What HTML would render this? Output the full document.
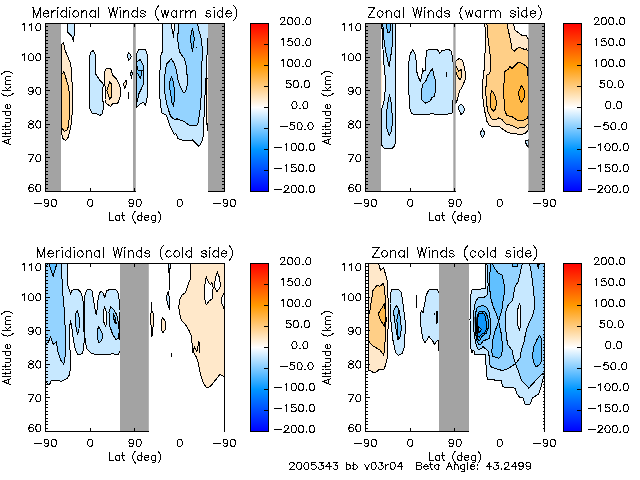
<!DOCTYPE html>
<html><head><meta charset="utf-8"><title>Winds</title>
<style>html,body{margin:0;padding:0;background:#fff;font-family:"Liberation Sans",sans-serif;}svg{display:block}</style>
</head><body>
<svg width="640" height="480" viewBox="0 0 640 480">
<defs><linearGradient id="cb" x1="0" y1="0" x2="0" y2="1"><stop offset="0.000" stop-color="#ff0000"/><stop offset="0.250" stop-color="#ff9900"/><stop offset="0.500" stop-color="#ffffff"/><stop offset="0.750" stop-color="#0096ff"/><stop offset="1.000" stop-color="#0000ff"/></linearGradient></defs>
<rect width="640" height="480" fill="#fff"/>
<path d="M67.50 23.50 L67.50 32.00 L70.00 34.50 L72.00 36.60 L73.40 41.50 L73.70 36.50 L74.60 34.50 L74.60 23.50 Z" fill="#c7e8ff" stroke="#000" stroke-width="1" stroke-linejoin="round" shape-rendering="crispEdges"/>
<path d="M61.00 44.50 L63.50 43.00 L65.00 50.00 L68.10 57.50 L70.60 63.80 L71.50 70.00 L71.90 80.00 L72.50 92.50 L72.30 111.00 L71.30 123.80 L70.00 130.00 L68.10 137.50 L65.60 140.60 L63.10 138.80 L61.50 133.80 L61.00 132.00 Z" fill="#ffe8ca" stroke="#000" stroke-width="1" stroke-linejoin="round" shape-rendering="crispEdges"/>
<path d="M61.00 75.00 L63.80 71.90 L65.60 76.30 L66.30 80.00 L68.80 87.50 L69.40 98.80 L69.40 115.00 L68.50 126.30 L66.70 130.60 L64.40 131.30 L61.90 128.00 L61.00 126.00 Z" fill="#ffcf87" stroke="#000" stroke-width="1" stroke-linejoin="round" shape-rendering="crispEdges"/>
<path d="M93.10 50.40 L90.60 52.50 L89.40 57.50 L89.40 107.50 L91.90 113.10 L96.30 113.80 L100.00 115.40 L102.50 113.80 L103.10 108.80 L102.90 92.50 L103.10 83.80 L100.60 81.30 L97.50 76.90 L95.60 73.80 L95.60 57.50 L95.00 53.80 Z" fill="#c7e8ff" stroke="#000" stroke-width="1" stroke-linejoin="round" shape-rendering="crispEdges"/>
<path d="M106.30 68.10 L110.00 68.10 L111.30 70.00 L112.50 75.00 L116.30 78.80 L118.80 83.80 L120.60 88.80 L120.60 95.00 L118.80 100.60 L117.50 103.80 L112.50 103.80 L110.60 106.30 L106.30 103.80 L105.00 100.00 L105.40 88.00 L104.00 80.00 L104.40 72.50 Z" fill="#ffe8ca" stroke="#000" stroke-width="1" stroke-linejoin="round" shape-rendering="crispEdges"/>
<path d="M109.80 81.90 L106.90 90.60 L110.00 99.40 L111.30 97.00 L111.30 84.00 Z" fill="#ffcf87" stroke="#000" stroke-width="1" stroke-linejoin="round" shape-rendering="crispEdges"/>
<path d="M128.80 52.50 L131.50 56.50 L128.80 60.60 L127.30 55.60 Z" fill="#c7e8ff" stroke="#000" stroke-width="1" stroke-linejoin="round" shape-rendering="crispEdges"/>
<path d="M131.50 70.30 L132.30 73.80 L131.50 78.10 L130.40 73.80 Z" fill="#c7e8ff" stroke="#000" stroke-width="1" stroke-linejoin="round" shape-rendering="crispEdges"/>
<path d="M126.30 80.00 L126.50 83.80 L124.80 88.80 L123.50 83.80 Z" fill="#ffe8ca" stroke="#000" stroke-width="1" stroke-linejoin="round" shape-rendering="crispEdges"/>
<path d="M136.00 56.00 L136.30 55.00 L138.60 49.40 L145.50 49.40 L147.30 55.00 L147.80 70.00 L147.50 94.00 L146.70 100.00 L145.50 105.20 L143.30 102.30 L140.30 103.80 L137.30 106.80 L136.00 107.50 Z" fill="#c7e8ff" stroke="#000" stroke-width="1" stroke-linejoin="round" shape-rendering="crispEdges"/>
<path d="M136.00 62.50 L140.30 59.50 L143.30 65.50 L144.00 74.50 L143.70 83.50 L141.00 89.50 L138.80 94.00 L137.70 100.00 L136.20 103.00 L136.00 103.00 Z" fill="#94d3ff" stroke="#000" stroke-width="1" stroke-linejoin="round" shape-rendering="crispEdges"/>
<path d="M136.40 64.00 L138.20 70.50 L142.30 70.00 L140.60 78.30 L137.60 73.50 L136.40 74.00 Z" fill="#61c0ff" stroke="#000" stroke-width="1" stroke-linejoin="round" shape-rendering="crispEdges"/>
<path d="M128.30 92.00 L128.30 99.00" fill="none" stroke="#000" stroke-width="1" stroke-linejoin="round" stroke-linecap="round" shape-rendering="crispEdges"/>
<path d="M162.50 23.50 L162.50 51.30 L160.60 56.30 L160.00 70.00 L159.40 80.00 L159.40 92.50 L160.60 105.00 L161.90 113.10 L166.30 115.00 L168.50 121.30 L170.60 127.50 L174.40 134.40 L175.60 133.10 L178.10 138.80 L182.50 140.30 L192.50 140.00 L195.60 143.10 L198.80 146.50 L201.90 141.90 L203.10 136.30 L203.80 122.50 L204.50 105.00 L205.50 86.00 L206.50 70.00 L207.00 55.00 L207.60 45.00 L208.00 38.00 L208.00 23.50 Z" fill="#c7e8ff" stroke="#000" stroke-width="1" stroke-linejoin="round" shape-rendering="crispEdges"/>
<path d="M171.00 23.50 L173.50 36.30 L174.80 23.50 Z" fill="#ffffff" stroke="#000" stroke-width="1" stroke-linejoin="round" shape-rendering="crispEdges"/>
<path d="M178.80 23.50 L177.80 36.30 L178.10 45.00 L180.00 52.50 L184.40 58.80 L186.30 66.30 L187.50 80.00 L186.90 87.50 L185.40 92.00 L183.50 92.50 L180.60 87.50 L178.10 80.00 L176.30 70.00 L174.40 63.80 L171.30 58.80 L166.90 63.80 L165.30 70.00 L164.60 80.00 L164.80 92.50 L166.90 105.00 L170.60 116.30 L175.00 120.00 L176.90 118.80 L183.80 121.30 L188.80 125.00 L196.90 125.00 L198.10 122.50 L199.40 115.00 L200.60 105.00 L201.30 92.50 L201.40 80.00 L201.90 63.80 L202.50 51.30 L201.30 38.80 L198.80 30.00 L197.50 23.50 Z" fill="#94d3ff" stroke="#000" stroke-width="1" stroke-linejoin="round" shape-rendering="crispEdges"/>
<path d="M192.50 28.10 L194.40 38.80 L192.50 51.30 L190.30 38.80 Z" fill="#61c0ff" stroke="#000" stroke-width="1" stroke-linejoin="round" shape-rendering="crispEdges"/>
<path d="M171.60 76.90 L169.40 82.50 L169.40 88.00 L170.60 92.50 L171.90 102.50 L173.70 107.00 L174.20 100.00 L174.40 90.00 L173.50 82.50 Z" fill="#61c0ff" stroke="#000" stroke-width="1" stroke-linejoin="round" shape-rendering="crispEdges"/>
<path d="M172.80 30.00 L173.80 37.50" fill="none" stroke="#000" stroke-width="1" stroke-linejoin="round" stroke-linecap="round" shape-rendering="crispEdges"/>
<path d="M196.30 47.30 L196.70 48.00" fill="none" stroke="#000" stroke-width="1" stroke-linejoin="round" stroke-linecap="round" shape-rendering="crispEdges"/>
<path d="M206.60 78.00 L206.40 100.00 L206.60 120.00 L207.60 130.80 L208.20 120.00 L208.20 78.00 Z" fill="#ffe8ca" stroke="#000" stroke-width="1" stroke-linejoin="round" shape-rendering="crispEdges"/>
<rect x="46.00" y="23.50" width="15.00" height="168.00" fill="#a3a3a3"/>
<rect x="133.00" y="23.50" width="2.80" height="168.00" fill="#a3a3a3"/>
<rect x="208.00" y="23.50" width="16.50" height="168.00" fill="#a3a3a3"/>
<rect x="250.5" y="23.5" width="18.0" height="168.0" fill="url(#cb)"/>
<path d="M381.80 23.50 L382.50 40.00 L383.50 58.00 L384.40 70.00 L385.60 80.00 L385.00 92.50 L383.80 102.50 L381.90 108.80 L381.60 145.00 L383.80 148.10 L391.90 148.50 L394.80 145.60 L395.40 141.30 L395.40 23.50 Z" fill="#c7e8ff" stroke="#000" stroke-width="1" stroke-linejoin="round" shape-rendering="crispEdges"/>
<path d="M382.80 23.50 L383.80 38.80 L385.60 51.30 L389.10 66.30 L390.60 57.50 L392.30 45.00 L392.80 23.50 Z" fill="#94d3ff" stroke="#000" stroke-width="1" stroke-linejoin="round" shape-rendering="crispEdges"/>
<path d="M386.50 23.50 L387.30 32.00 L389.90 32.00 L391.00 23.50 Z" fill="#61c0ff" stroke="#000" stroke-width="1" stroke-linejoin="round" shape-rendering="crispEdges"/>
<path d="M389.40 95.00 L387.30 105.00 L386.30 117.50 L386.90 128.80 L389.40 135.60 L391.90 130.00 L392.30 117.50 L391.50 105.00 L390.60 98.80 Z" fill="#94d3ff" stroke="#000" stroke-width="1" stroke-linejoin="round" shape-rendering="crispEdges"/>
<path d="M381.00 60.00 L382.40 62.00 L382.40 102.50 L381.00 104.00 Z" fill="#ffe8ca" stroke="none" stroke-width="1" stroke-linejoin="round" shape-rendering="crispEdges"/>
<path d="M412.50 49.80 L410.30 53.80 L409.00 61.30 L408.80 70.00 L408.40 80.00 L409.00 95.00 L409.80 108.80 L411.90 113.80 L417.50 115.00 L425.00 114.40 L432.50 113.80 L440.00 115.00 L445.00 114.80 L451.90 113.10 L452.80 108.80 L453.00 100.00 L453.00 61.90 L452.50 58.80 L451.50 51.30 L448.80 49.40 L441.90 50.60 L439.80 53.30 L437.50 49.90 L428.80 49.80 L426.90 50.60 L426.00 57.50 L425.60 70.00 L423.80 71.30 L422.50 68.80 L421.90 75.00 L420.30 81.50 L418.10 76.30 L416.30 70.00 L416.00 60.00 L415.00 53.80 Z" fill="#c7e8ff" stroke="#000" stroke-width="1" stroke-linejoin="round" shape-rendering="crispEdges"/>
<path d="M432.50 68.10 L427.50 76.30 L426.30 80.00 L422.50 85.00 L421.30 92.50 L421.90 100.00 L425.60 103.10 L430.60 100.60 L431.90 97.50 L434.40 96.30 L435.60 90.00 L436.00 85.00 L435.60 81.30 L433.80 75.00 Z" fill="#94d3ff" stroke="#000" stroke-width="1" stroke-linejoin="round" shape-rendering="crispEdges"/>
<path d="M446.50 72.00 L446.50 77.00" fill="none" stroke="#000" stroke-width="1" stroke-linejoin="round" stroke-linecap="round" shape-rendering="crispEdges"/>
<path d="M455.00 62.00 L456.30 60.60 L459.40 58.50 L462.30 60.00 L463.80 65.00 L465.30 72.50 L465.00 80.00 L462.50 86.30 L459.40 91.30 L458.10 96.30 L457.20 100.00 L456.00 103.00 L455.00 103.50 Z" fill="#ffe8ca" stroke="#000" stroke-width="1" stroke-linejoin="round" shape-rendering="crispEdges"/>
<path d="M455.60 66.00 L456.30 66.30 L458.80 71.30 L461.30 69.40 L461.30 77.50 L460.00 80.00 L457.30 76.30 L455.60 71.00 Z" fill="#ffcf87" stroke="#000" stroke-width="1" stroke-linejoin="round" shape-rendering="crispEdges"/>
<path d="M461.30 104.00 L464.80 108.80 L463.10 113.10 L461.00 114.40 L458.50 108.80 L459.00 105.60 Z" fill="#c7e8ff" stroke="#000" stroke-width="1" stroke-linejoin="round" shape-rendering="crispEdges"/>
<path d="M482.50 129.00 L485.00 133.10 L482.50 137.80 L480.00 133.10 Z" fill="#c7e8ff" stroke="#000" stroke-width="1" stroke-linejoin="round" shape-rendering="crispEdges"/>
<path d="M525.00 140.60 L528.50 140.00 L528.50 147.50 L526.50 145.00 Z" fill="#c7e8ff" stroke="#000" stroke-width="1" stroke-linejoin="round" shape-rendering="crispEdges"/>
<path d="M484.80 23.50 L485.60 38.80 L486.00 51.30 L484.40 53.80 L484.80 68.80 L483.10 72.50 L483.50 77.50 L482.60 80.00 L482.80 90.00 L483.10 102.50 L485.00 112.50 L486.90 121.30 L489.40 125.60 L493.80 126.90 L498.80 126.30 L503.10 129.40 L507.50 132.50 L515.00 133.80 L520.00 134.40 L525.00 133.80 L528.10 130.00 L528.50 128.00 L528.50 38.80 L528.10 38.80 L526.30 35.60 L522.50 35.60 L518.80 33.10 L515.00 30.00 L513.50 23.50 Z" fill="#ffe8ca" stroke="#000" stroke-width="1" stroke-linejoin="round" shape-rendering="crispEdges"/>
<path d="M486.90 23.50 L488.10 38.80 L489.80 51.30 L490.60 61.30 L490.80 68.80 L489.40 73.80 L486.90 75.00 L486.70 85.00 L485.60 87.50 L486.30 102.50 L488.10 112.50 L491.30 118.80 L495.60 120.00 L498.80 117.80 L501.90 119.40 L505.60 123.80 L512.50 125.60 L517.50 128.10 L524.40 127.50 L528.10 123.80 L528.50 122.00 L528.50 51.30 L528.10 51.30 L526.30 48.80 L524.40 50.00 L522.50 48.10 L518.10 47.80 L514.00 51.30 L511.90 48.80 L511.00 42.50 L508.80 32.50 L506.90 23.50 Z" fill="#ffcf87" stroke="#000" stroke-width="1" stroke-linejoin="round" shape-rendering="crispEdges"/>
<path d="M504.40 80.00 L505.00 71.30 L508.10 69.40 L510.00 66.30 L511.90 68.80 L518.10 62.50 L521.90 63.10 L526.90 66.90 L527.80 72.00 L528.20 80.00 L528.50 104.00 L528.50 115.00 L526.90 118.80 L522.50 120.60 L517.50 120.60 L512.50 116.90 L506.90 115.60 L505.00 111.30 L504.00 98.80 L503.50 88.00 Z" fill="#ffba4b" stroke="#000" stroke-width="1" stroke-linejoin="round" shape-rendering="crispEdges"/>
<path d="M491.60 90.60 L490.10 96.30 L490.10 102.00 L490.60 107.50 L493.30 111.30 L495.60 108.80 L496.50 102.50 L495.60 97.50 L493.10 92.00 Z" fill="#ffba4b" stroke="#000" stroke-width="1" stroke-linejoin="round" shape-rendering="crispEdges"/>
<path d="M521.50 85.30 L518.50 92.50 L519.40 98.80 L521.50 102.50 L524.40 97.50 L524.10 90.00 Z" fill="#ffa619" stroke="#000" stroke-width="1" stroke-linejoin="round" shape-rendering="crispEdges"/>
<path d="M528.00 68.00 L528.00 104.00" fill="none" stroke="#000" stroke-width="1" stroke-linejoin="round" stroke-linecap="round" shape-rendering="crispEdges"/>
<rect x="366.00" y="23.50" width="15.00" height="168.00" fill="#a3a3a3"/>
<rect x="453.30" y="23.50" width="2.30" height="168.00" fill="#a3a3a3"/>
<rect x="528.50" y="23.50" width="16.00" height="168.00" fill="#a3a3a3"/>
<rect x="563.5" y="23.5" width="18.0" height="168.0" fill="url(#cb)"/>
<path d="M45.50 263.50 L67.30 263.50 L67.50 285.00 L69.40 290.00 L70.60 294.40 L71.90 290.60 L74.40 289.40 L78.10 289.40 L80.60 291.90 L82.50 297.50 L83.50 303.80 L83.90 320.00 L84.10 341.00 L83.80 349.00 L81.90 353.80 L78.10 355.00 L75.60 350.00 L73.80 342.50 L71.90 328.50 L70.60 320.60 L69.80 326.00 L69.60 337.50 L70.00 350.00 L70.60 367.50 L69.40 375.00 L67.50 378.10 L61.30 381.30 L56.90 380.00 L51.30 380.60 L49.40 385.00 L46.50 382.50 L45.50 382.00 Z" fill="#c7e8ff" stroke="#000" stroke-width="1" stroke-linejoin="round" shape-rendering="crispEdges"/>
<path d="M84.80 336.00 L84.90 320.00 L85.00 295.00 L86.90 290.00 L90.00 289.40 L92.30 291.30 L93.10 297.50 L94.40 305.00 L95.60 313.30 L96.30 315.00 L97.30 307.50 L98.10 298.80 L99.40 293.10 L101.30 291.30 L103.10 293.10 L104.80 297.50 L105.60 293.80 L106.90 290.60 L110.00 289.40 L115.00 289.40 L117.50 291.30 L118.80 296.30 L119.40 303.80 L120.00 310.00 L120.00 351.00 L119.40 352.00 L118.10 354.40 L111.30 353.80 L108.80 354.80 L97.50 355.00 L91.30 353.10 L86.90 349.00 L85.60 342.50 Z" fill="#c7e8ff" stroke="#000" stroke-width="1" stroke-linejoin="round" shape-rendering="crispEdges"/>
<path d="M45.50 263.50 L61.90 263.50 L61.90 276.30 L62.50 291.30 L63.80 303.80 L64.40 312.50 L65.00 325.00 L65.60 342.50 L65.00 357.50 L63.80 364.40 L60.60 360.00 L58.10 352.50 L56.30 341.90 L53.10 344.40 L50.60 336.90 L48.10 342.50 L45.50 343.50 Z" fill="#94d3ff" stroke="#000" stroke-width="1" stroke-linejoin="round" shape-rendering="crispEdges"/>
<path d="M48.80 263.50 L56.90 263.50 L53.10 276.30 Z" fill="#61c0ff" stroke="#000" stroke-width="1" stroke-linejoin="round" shape-rendering="crispEdges"/>
<path d="M45.50 263.50 L48.30 263.50 L45.50 267.00 Z" fill="#61c0ff" stroke="#000" stroke-width="1" stroke-linejoin="round" shape-rendering="crispEdges"/>
<path d="M77.30 310.00 L79.40 318.80 L79.00 328.80 L77.50 335.00 L75.60 325.00 L75.40 315.00 Z" fill="#94d3ff" stroke="#000" stroke-width="1" stroke-linejoin="round" shape-rendering="crispEdges"/>
<path d="M104.50 307.00 L106.50 312.00 L106.90 322.00 L105.60 326.30 L103.80 322.00 L103.40 312.00 Z" fill="#ffffff" stroke="#000" stroke-width="1" stroke-linejoin="round" shape-rendering="crispEdges"/>
<path d="M98.80 326.30 L102.50 333.80 L101.90 340.00 L98.80 343.10 L97.50 337.50 L97.50 330.00 Z" fill="#94d3ff" stroke="#000" stroke-width="1" stroke-linejoin="round" shape-rendering="crispEdges"/>
<path d="M110.60 306.90 L109.00 312.50 L109.40 325.00 L112.50 333.80 L115.60 339.40 L118.10 338.80 L119.20 331.30 L118.40 322.50 L116.90 315.00 L113.80 310.00 Z" fill="#94d3ff" stroke="#000" stroke-width="1" stroke-linejoin="round" shape-rendering="crispEdges"/>
<path d="M113.50 314.00 L115.60 318.00 L116.20 324.00 L114.20 321.50 Z" fill="#61c0ff" stroke="#000" stroke-width="1" stroke-linejoin="round" shape-rendering="crispEdges"/>
<path d="M119.30 312.00 L119.30 340.00" fill="none" stroke="#000" stroke-width="1" stroke-linejoin="round" stroke-linecap="round" shape-rendering="crispEdges"/>
<path d="M190.60 263.50 L190.30 278.80 L187.50 286.30 L185.60 292.50 L181.90 295.00 L179.40 300.00 L178.80 307.50 L179.60 313.00 L181.30 320.00 L185.00 323.80 L188.80 330.00 L191.00 335.00 L191.90 342.50 L193.10 351.30 L196.30 357.00 L198.10 362.50 L200.60 375.00 L203.80 383.80 L206.30 387.30 L210.00 386.90 L215.00 380.60 L220.00 374.40 L223.80 376.30 L224.50 376.50 L224.50 263.50 Z" fill="#ffe8ca" stroke="#000" stroke-width="1" stroke-linejoin="round" shape-rendering="crispEdges"/>
<path d="M206.30 276.90 L208.80 283.10 L210.60 284.50 L211.90 282.50 L213.10 287.50 L212.50 298.80 L209.40 300.60 L206.30 305.00 L204.80 298.80 L204.80 285.00 Z" fill="#ffffff" stroke="#000" stroke-width="1" stroke-linejoin="round" shape-rendering="crispEdges"/>
<path d="M217.30 271.90 L219.40 277.50 L220.60 286.30 L216.90 291.90 L214.40 286.90 L215.30 278.80 Z" fill="#ffffff" stroke="#000" stroke-width="1" stroke-linejoin="round" shape-rendering="crispEdges"/>
<path d="M224.50 292.50 L223.10 294.40 L221.50 298.80 L221.90 303.80 L223.80 308.10 L224.50 308.80 Z" fill="#ffffff" stroke="#000" stroke-width="1" stroke-linejoin="round" shape-rendering="crispEdges"/>
<path d="M192.50 353.00 L194.50 347.00 L196.90 351.50 L199.00 341.50 L199.40 352.50" fill="none" stroke="#000" stroke-width="1" stroke-linejoin="round" stroke-linecap="round" shape-rendering="crispEdges"/>
<path d="M168.30 263.50 L168.80 270.00 L169.30 276.50 L169.90 270.00 L170.40 263.50 Z" fill="#c7e8ff" stroke="#000" stroke-width="1" stroke-linejoin="round" shape-rendering="crispEdges"/>
<path d="M169.20 276.00 L169.00 292.00" fill="none" stroke="#000" stroke-width="1" stroke-linejoin="round" stroke-linecap="round" shape-rendering="crispEdges"/>
<path d="M168.10 291.90 L166.30 297.50 L167.50 303.80 L169.40 309.40 L169.30 297.50 Z" fill="#c7e8ff" stroke="#000" stroke-width="1" stroke-linejoin="round" shape-rendering="crispEdges"/>
<path d="M151.90 302.50 L151.60 312.00" fill="none" stroke="#000" stroke-width="1" stroke-linejoin="round" stroke-linecap="round" shape-rendering="crispEdges"/>
<path d="M151.70 311.00 L150.40 315.00 L150.80 322.00 L152.00 336.50 L153.30 325.00 L153.60 315.00 L152.60 311.50 Z" fill="#ffe8ca" stroke="#000" stroke-width="1" stroke-linejoin="round" shape-rendering="crispEdges"/>
<path d="M162.50 317.30 L165.40 321.30 L165.60 328.80 L163.10 332.50 L161.30 330.00 L161.30 321.30 Z" fill="#ffe8ca" stroke="#000" stroke-width="1" stroke-linejoin="round" shape-rendering="crispEdges"/>
<path d="M171.30 353.00 L171.30 357.00" fill="none" stroke="#000" stroke-width="1" stroke-linejoin="round" stroke-linecap="round" shape-rendering="crispEdges"/>
<rect x="120.00" y="263.50" width="28.80" height="168.00" fill="#a3a3a3"/>
<rect x="250.5" y="263.5" width="18.0" height="168.0" fill="url(#cb)"/>
<path d="M368.40 263.50 L378.50 263.50 L380.60 270.50 L383.50 267.50 L385.00 272.50 L386.90 278.80 L387.90 291.30 L388.10 303.80 L388.10 326.30 L387.50 347.50 L387.30 357.50 L385.60 365.00 L383.80 369.40 L378.80 369.40 L376.90 371.90 L373.10 372.30 L370.00 370.60 L368.40 370.20 Z" fill="#ffe8ca" stroke="#000" stroke-width="1" stroke-linejoin="round" shape-rendering="crispEdges"/>
<path d="M368.40 320.00 L368.50 313.00 L369.40 313.80 L371.30 301.30 L373.10 290.00 L376.90 285.60 L380.00 286.30 L383.50 283.10 L384.80 291.30 L385.60 303.80 L386.10 320.00 L385.60 335.00 L384.60 347.50 L383.80 355.30 L380.00 350.00 L372.50 345.60 L368.40 341.00 Z" fill="#ffcf87" stroke="#000" stroke-width="1" stroke-linejoin="round" shape-rendering="crispEdges"/>
<path d="M384.40 303.80 L381.30 308.80 L378.30 313.80 L380.60 320.50 L384.60 326.30 L385.20 320.00 L385.20 310.00 Z" fill="#ffba4b" stroke="#000" stroke-width="1" stroke-linejoin="round" shape-rendering="crispEdges"/>
<path d="M391.90 289.80 L398.80 289.80 L401.30 292.50 L402.50 300.00 L403.80 310.00 L405.00 320.00 L405.30 322.50 L405.00 335.00 L404.40 346.30 L402.50 353.10 L398.50 355.30 L395.60 352.50 L393.10 341.30 L391.30 326.30 L390.60 315.00 L390.00 303.80 L390.60 292.50 Z" fill="#c7e8ff" stroke="#000" stroke-width="1" stroke-linejoin="round" shape-rendering="crispEdges"/>
<path d="M396.30 305.60 L394.00 310.00 L393.80 314.00 L395.00 322.50 L396.90 335.00 L398.10 340.00 L400.00 337.50 L401.30 328.80 L400.60 318.80 L399.00 310.00 L398.10 308.00 Z" fill="#94d3ff" stroke="#000" stroke-width="1" stroke-linejoin="round" shape-rendering="crispEdges"/>
<path d="M398.80 312.00 L397.30 316.00 L396.90 320.00 L397.40 328.80 L398.20 338.50 L398.10 340.00 L400.00 337.50 L401.30 328.80 L400.60 318.80 L399.00 310.00 Z" fill="#61c0ff" stroke="#000" stroke-width="1" stroke-linejoin="round" shape-rendering="crispEdges"/>
<path d="M416.00 294.50 L416.00 308.00" fill="none" stroke="#000" stroke-width="1" stroke-linejoin="round" stroke-linecap="round" shape-rendering="crispEdges"/>
<path d="M428.80 290.00 L437.50 289.80 L439.00 292.50 L439.50 294.00 L439.50 351.50 L439.00 351.30 L438.80 340.00 L436.30 341.30 L434.40 344.40 L432.50 340.60 L430.00 338.10 L428.80 336.30 L426.90 340.00 L424.80 343.10 L422.50 337.50 L421.30 328.80 L420.00 320.00 L421.30 310.00 L423.10 312.50 L424.40 305.00 L426.30 295.00 Z" fill="#c7e8ff" stroke="#000" stroke-width="1" stroke-linejoin="round" shape-rendering="crispEdges"/>
<path d="M437 311 L437.2 323.5" fill="none" stroke="#000" stroke-width="2" shape-rendering="crispEdges"/>
<path d="M434.40 313.50 L434.60 314.00" fill="none" stroke="#000" stroke-width="1" stroke-linejoin="round" stroke-linecap="round" shape-rendering="crispEdges"/>
<path d="M485.00 263.50 L485.00 288.80 L472.50 289.40 L471.30 291.30 L470.60 297.50 L470.00 320.00 L470.60 347.50 L471.30 349.40 L471.90 352.80 L473.10 350.00 L474.20 351.50 L475.00 354.40 L485.60 355.00 L486.30 372.50 L487.50 379.40 L501.30 380.60 L502.50 386.90 L515.00 388.10 L516.90 393.80 L520.00 397.50 L523.10 398.10 L525.00 404.40 L530.00 404.40 L532.50 398.10 L538.80 393.80 L541.30 386.30 L543.10 378.80 L544.50 375.00 L544.50 263.50 Z" fill="#c7e8ff" stroke="#000" stroke-width="1" stroke-linejoin="round" shape-rendering="crispEdges"/>
<path d="M486.90 263.50 L487.50 272.50 L488.10 285.00 L487.30 295.00 L483.80 297.50 L477.90 297.90 L475.40 302.30 L473.80 311.00 L473.50 327.30 L474.80 338.50 L476.60 346.00 L478.50 349.80 L481.60 348.50 L482.90 346.60 L486.00 349.10 L488.60 351.50 L490.00 365.00 L491.90 367.50 L502.50 370.60 L507.50 368.80 L515.60 363.80 L513.10 356.30 L513.10 355.00 L511.90 350.00 L508.10 345.00 L506.30 337.50 L505.50 323.40 L505.90 311.30 L507.80 305.60 L509.20 304.00 L512.50 300.30 L513.90 292.80 L514.40 287.70 L518.10 281.60 L520.00 274.00 L522.30 263.50 Z" fill="#94d3ff" stroke="#000" stroke-width="1" stroke-linejoin="round" shape-rendering="crispEdges"/>
<path d="M529.60 263.50 L531.30 272.20 L532.70 283.40 L534.00 295.60 L534.50 302.00 L534.10 309.40 L532.20 316.90 L529.40 322.50 L526.60 329.00 L525.20 335.60 L523.80 343.00 L521.30 350.00 L520.00 358.00 L515.60 363.80 L518.80 372.50 L521.30 380.00 L528.80 388.10 L535.00 381.30 L541.30 375.00 L544.50 372.50 L544.50 263.50 Z" fill="#94d3ff" stroke="#000" stroke-width="1" stroke-linejoin="round" shape-rendering="crispEdges"/>
<path d="M536.90 263.50 L538.30 268.40 L539.20 263.50" fill="none" stroke="#000" stroke-width="1" stroke-linejoin="round" stroke-linecap="round" shape-rendering="crispEdges"/>
<path d="M519.50 303.30 L517.50 310.30 L517.50 324.40 L519.50 330.50 L520.80 323.40 L520.90 307.50 Z" fill="#ffffff" stroke="#000" stroke-width="1" stroke-linejoin="round" shape-rendering="crispEdges"/>
<path d="M491.00 263.50 L490.00 272.50 L489.40 285.00 L490.60 297.50 L493.10 306.30 L496.30 313.80 L498.70 321.00 L499.60 317.50 L501.90 310.00 L503.10 300.00 L504.80 290.00 L503.80 282.50 L501.90 275.00 L498.10 273.00 L494.40 268.00 L492.50 263.50 Z" fill="#61c0ff" stroke="#000" stroke-width="1" stroke-linejoin="round" shape-rendering="crispEdges"/>
<path d="M498.70 321.00 L495.00 331.30 L492.30 341.30 L491.90 352.50 L492.50 356.30 L495.00 356.90 L498.80 358.50 L501.90 355.30 L502.30 343.80 L501.30 333.80 L499.80 326.90 Z" fill="#61c0ff" stroke="#000" stroke-width="1" stroke-linejoin="round" shape-rendering="crispEdges"/>
<path d="M478.50 306.60 L482.90 305.40 L486.60 307.30 L489.10 312.30 L490.40 321.00 L490.80 332.30 L489.10 338.50 L486.00 339.80 L482.90 341.00 L481.00 344.10 L478.50 344.10 L476.60 339.80 L475.40 331.00 L475.40 314.80 L476.60 308.50 Z" fill="#61c0ff" stroke="#000" stroke-width="1" stroke-linejoin="round" shape-rendering="crispEdges"/>
<path d="M539.60 335.40 L536.90 339.70 L533.90 346.50 L532.50 355.00 L533.50 362.50 L536.30 366.90 L540.60 363.80 L541.90 357.50 L542.00 345.00 L541.20 338.00 Z" fill="#61c0ff" stroke="#000" stroke-width="1" stroke-linejoin="round" shape-rendering="crispEdges"/>
<path d="M512.00 263.50 L512.20 266.30 L517.50 266.30 L517.70 263.50 Z" fill="#61c0ff" stroke="#000" stroke-width="1" stroke-linejoin="round" shape-rendering="crispEdges"/>
<path d="M478.50 312.30 L482.30 311.00 L485.40 312.30 L487.90 317.30 L488.50 327.30 L486.00 333.50 L482.30 336.00 L479.80 340.40 L477.90 339.80 L477.00 331.00 L477.00 317.30 Z" fill="#2eacff" stroke="#000" stroke-width="1" stroke-linejoin="round" shape-rendering="crispEdges"/>
<path d="M479.10 314.10 L482.30 312.90 L484.80 314.80 L486.00 321.00 L486.60 328.50 L484.80 332.90 L481.60 334.10 L479.10 337.30 L477.90 336.00 L477.30 327.30 L477.50 318.50 Z" fill="#0f96fa" stroke="#000" stroke-width="1" stroke-linejoin="round" shape-rendering="crispEdges"/>
<path d="M478.40 326.00 L481.40 329.80 L478.80 332.80 Z" fill="#2eacff" stroke="#000" stroke-width="1" stroke-linejoin="round" shape-rendering="crispEdges"/>
<path d="M475.6 317.5 L476.4 333.5" fill="none" stroke="#000" stroke-width="2.2" stroke-linecap="round"/>
<rect x="439.00" y="263.50" width="30.00" height="168.00" fill="#a3a3a3"/>
<rect x="563.5" y="263.5" width="18.0" height="168.0" fill="url(#cb)"/>
<path d="M45.5 191.5 V23.5 H224.5 V191.5 M45.0 191.5 H135.5 M208.0 191.5 H225.0 M90.5 191.5 v-3.5 M90.5 23.5 v3.5 M134.5 191.5 v-3.5 M134.5 23.5 v3.5 M45.5 188.5 h2.5 M224.5 188.5 h-2.5 M45.5 184.5 h2.5 M224.5 184.5 h-2.5 M45.5 181.5 h2.5 M224.5 181.5 h-2.5 M45.5 178.5 h2.5 M224.5 178.5 h-2.5 M45.5 174.5 h2.5 M224.5 174.5 h-2.5 M45.5 171.5 h2.5 M224.5 171.5 h-2.5 M45.5 167.5 h2.5 M224.5 167.5 h-2.5 M45.5 164.5 h2.5 M224.5 164.5 h-2.5 M45.5 161.5 h2.5 M224.5 161.5 h-2.5 M45.5 157.5 h4.5 M224.5 157.5 h-4.5 M45.5 154.5 h2.5 M224.5 154.5 h-2.5 M45.5 151.5 h2.5 M224.5 151.5 h-2.5 M45.5 147.5 h2.5 M224.5 147.5 h-2.5 M45.5 144.5 h2.5 M224.5 144.5 h-2.5 M45.5 141.5 h2.5 M224.5 141.5 h-2.5 M45.5 137.5 h2.5 M224.5 137.5 h-2.5 M45.5 134.5 h2.5 M224.5 134.5 h-2.5 M45.5 131.5 h2.5 M224.5 131.5 h-2.5 M45.5 127.5 h2.5 M224.5 127.5 h-2.5 M45.5 124.5 h4.5 M224.5 124.5 h-4.5 M45.5 120.5 h2.5 M224.5 120.5 h-2.5 M45.5 117.5 h2.5 M224.5 117.5 h-2.5 M45.5 114.5 h2.5 M224.5 114.5 h-2.5 M45.5 110.5 h2.5 M224.5 110.5 h-2.5 M45.5 107.5 h2.5 M224.5 107.5 h-2.5 M45.5 104.5 h2.5 M224.5 104.5 h-2.5 M45.5 100.5 h2.5 M224.5 100.5 h-2.5 M45.5 97.5 h2.5 M224.5 97.5 h-2.5 M45.5 94.5 h2.5 M224.5 94.5 h-2.5 M45.5 90.5 h4.5 M224.5 90.5 h-4.5 M45.5 87.5 h2.5 M224.5 87.5 h-2.5 M45.5 83.5 h2.5 M224.5 83.5 h-2.5 M45.5 80.5 h2.5 M224.5 80.5 h-2.5 M45.5 77.5 h2.5 M224.5 77.5 h-2.5 M45.5 73.5 h2.5 M224.5 73.5 h-2.5 M45.5 70.5 h2.5 M224.5 70.5 h-2.5 M45.5 67.5 h2.5 M224.5 67.5 h-2.5 M45.5 63.5 h2.5 M224.5 63.5 h-2.5 M45.5 60.5 h2.5 M224.5 60.5 h-2.5 M45.5 57.5 h4.5 M224.5 57.5 h-4.5 M45.5 53.5 h2.5 M224.5 53.5 h-2.5 M45.5 50.5 h2.5 M224.5 50.5 h-2.5 M45.5 47.5 h2.5 M224.5 47.5 h-2.5 M45.5 43.5 h2.5 M224.5 43.5 h-2.5 M45.5 40.5 h2.5 M224.5 40.5 h-2.5 M45.5 36.5 h2.5 M224.5 36.5 h-2.5 M45.5 33.5 h2.5 M224.5 33.5 h-2.5 M45.5 30.5 h2.5 M224.5 30.5 h-2.5 M45.5 26.5 h2.5 M224.5 26.5 h-2.5 M250.5 23.5 H268.5 V191.5 H250.5 Z M268.5 44.5 h-5 M268.5 65.5 h-5 M268.5 86.5 h-5 M268.5 107.5 h-5 M268.5 128.5 h-5 M268.5 149.5 h-5 M268.5 170.5 h-5 M365.5 191.5 V23.5 H544.5 V191.5 M365.0 191.5 H455.5 M528.0 191.5 H545.0 M410.5 191.5 v-3.5 M410.5 23.5 v3.5 M454.5 191.5 v-3.5 M454.5 23.5 v3.5 M365.5 188.5 h2.5 M544.5 188.5 h-2.5 M365.5 184.5 h2.5 M544.5 184.5 h-2.5 M365.5 181.5 h2.5 M544.5 181.5 h-2.5 M365.5 178.5 h2.5 M544.5 178.5 h-2.5 M365.5 174.5 h2.5 M544.5 174.5 h-2.5 M365.5 171.5 h2.5 M544.5 171.5 h-2.5 M365.5 167.5 h2.5 M544.5 167.5 h-2.5 M365.5 164.5 h2.5 M544.5 164.5 h-2.5 M365.5 161.5 h2.5 M544.5 161.5 h-2.5 M365.5 157.5 h4.5 M544.5 157.5 h-4.5 M365.5 154.5 h2.5 M544.5 154.5 h-2.5 M365.5 151.5 h2.5 M544.5 151.5 h-2.5 M365.5 147.5 h2.5 M544.5 147.5 h-2.5 M365.5 144.5 h2.5 M544.5 144.5 h-2.5 M365.5 141.5 h2.5 M544.5 141.5 h-2.5 M365.5 137.5 h2.5 M544.5 137.5 h-2.5 M365.5 134.5 h2.5 M544.5 134.5 h-2.5 M365.5 131.5 h2.5 M544.5 131.5 h-2.5 M365.5 127.5 h2.5 M544.5 127.5 h-2.5 M365.5 124.5 h4.5 M544.5 124.5 h-4.5 M365.5 120.5 h2.5 M544.5 120.5 h-2.5 M365.5 117.5 h2.5 M544.5 117.5 h-2.5 M365.5 114.5 h2.5 M544.5 114.5 h-2.5 M365.5 110.5 h2.5 M544.5 110.5 h-2.5 M365.5 107.5 h2.5 M544.5 107.5 h-2.5 M365.5 104.5 h2.5 M544.5 104.5 h-2.5 M365.5 100.5 h2.5 M544.5 100.5 h-2.5 M365.5 97.5 h2.5 M544.5 97.5 h-2.5 M365.5 94.5 h2.5 M544.5 94.5 h-2.5 M365.5 90.5 h4.5 M544.5 90.5 h-4.5 M365.5 87.5 h2.5 M544.5 87.5 h-2.5 M365.5 83.5 h2.5 M544.5 83.5 h-2.5 M365.5 80.5 h2.5 M544.5 80.5 h-2.5 M365.5 77.5 h2.5 M544.5 77.5 h-2.5 M365.5 73.5 h2.5 M544.5 73.5 h-2.5 M365.5 70.5 h2.5 M544.5 70.5 h-2.5 M365.5 67.5 h2.5 M544.5 67.5 h-2.5 M365.5 63.5 h2.5 M544.5 63.5 h-2.5 M365.5 60.5 h2.5 M544.5 60.5 h-2.5 M365.5 57.5 h4.5 M544.5 57.5 h-4.5 M365.5 53.5 h2.5 M544.5 53.5 h-2.5 M365.5 50.5 h2.5 M544.5 50.5 h-2.5 M365.5 47.5 h2.5 M544.5 47.5 h-2.5 M365.5 43.5 h2.5 M544.5 43.5 h-2.5 M365.5 40.5 h2.5 M544.5 40.5 h-2.5 M365.5 36.5 h2.5 M544.5 36.5 h-2.5 M365.5 33.5 h2.5 M544.5 33.5 h-2.5 M365.5 30.5 h2.5 M544.5 30.5 h-2.5 M365.5 26.5 h2.5 M544.5 26.5 h-2.5 M563.5 23.5 H581.5 V191.5 H563.5 Z M581.5 44.5 h-5 M581.5 65.5 h-5 M581.5 86.5 h-5 M581.5 107.5 h-5 M581.5 128.5 h-5 M581.5 149.5 h-5 M581.5 170.5 h-5 M45.5 431.5 V263.5 H224.5 V431.5 M45.0 431.5 H148.5 M224.5 431.5 v0.5 M90.5 431.5 v-3.5 M90.5 263.5 v3.5 M134.5 431.5 v-3.5 M134.5 263.5 v3.5 M45.5 428.5 h2.5 M45.5 424.5 h2.5 M45.5 421.5 h2.5 M45.5 418.5 h2.5 M45.5 414.5 h2.5 M45.5 411.5 h2.5 M45.5 407.5 h2.5 M45.5 404.5 h2.5 M45.5 401.5 h2.5 M45.5 397.5 h4.5 M45.5 394.5 h2.5 M45.5 391.5 h2.5 M45.5 387.5 h2.5 M45.5 384.5 h2.5 M45.5 381.5 h2.5 M45.5 377.5 h2.5 M45.5 374.5 h2.5 M45.5 371.5 h2.5 M45.5 367.5 h2.5 M45.5 364.5 h4.5 M45.5 360.5 h2.5 M45.5 357.5 h2.5 M45.5 354.5 h2.5 M45.5 350.5 h2.5 M45.5 347.5 h2.5 M45.5 344.5 h2.5 M45.5 340.5 h2.5 M45.5 337.5 h2.5 M45.5 334.5 h2.5 M45.5 330.5 h4.5 M45.5 327.5 h2.5 M45.5 323.5 h2.5 M45.5 320.5 h2.5 M45.5 317.5 h2.5 M45.5 313.5 h2.5 M45.5 310.5 h2.5 M45.5 307.5 h2.5 M45.5 303.5 h2.5 M45.5 300.5 h2.5 M45.5 297.5 h4.5 M45.5 293.5 h2.5 M45.5 290.5 h2.5 M45.5 287.5 h2.5 M45.5 283.5 h2.5 M45.5 280.5 h2.5 M45.5 276.5 h2.5 M45.5 273.5 h2.5 M45.5 270.5 h2.5 M45.5 266.5 h2.5 M250.5 263.5 H268.5 V431.5 H250.5 Z M268.5 284.5 h-5 M268.5 305.5 h-5 M268.5 326.5 h-5 M268.5 347.5 h-5 M268.5 368.5 h-5 M268.5 389.5 h-5 M268.5 410.5 h-5 M365.5 431.5 V263.5 H544.5 V431.5 M365.0 431.5 H468.5 M544.5 431.5 v0.5 M410.5 431.5 v-3.5 M410.5 263.5 v3.5 M454.5 431.5 v-3.5 M454.5 263.5 v3.5 M365.5 428.5 h2.5 M544.5 428.5 h-1.5 M365.5 424.5 h2.5 M544.5 424.5 h-1.5 M365.5 421.5 h2.5 M544.5 421.5 h-1.5 M365.5 418.5 h2.5 M544.5 418.5 h-1.5 M365.5 414.5 h2.5 M544.5 414.5 h-1.5 M365.5 411.5 h2.5 M544.5 411.5 h-1.5 M365.5 407.5 h2.5 M544.5 407.5 h-1.5 M365.5 404.5 h2.5 M544.5 404.5 h-1.5 M365.5 401.5 h2.5 M544.5 401.5 h-1.5 M365.5 397.5 h4.5 M544.5 397.5 h-1.5 M365.5 394.5 h2.5 M544.5 394.5 h-1.5 M365.5 391.5 h2.5 M544.5 391.5 h-1.5 M365.5 387.5 h2.5 M544.5 387.5 h-1.5 M365.5 384.5 h2.5 M544.5 384.5 h-1.5 M365.5 381.5 h2.5 M544.5 381.5 h-1.5 M365.5 377.5 h2.5 M544.5 377.5 h-1.5 M365.5 374.5 h2.5 M544.5 374.5 h-1.5 M365.5 371.5 h2.5 M544.5 371.5 h-1.5 M365.5 367.5 h2.5 M544.5 367.5 h-1.5 M365.5 364.5 h4.5 M544.5 364.5 h-1.5 M365.5 360.5 h2.5 M544.5 360.5 h-1.5 M365.5 357.5 h2.5 M544.5 357.5 h-1.5 M365.5 354.5 h2.5 M544.5 354.5 h-1.5 M365.5 350.5 h2.5 M544.5 350.5 h-1.5 M365.5 347.5 h2.5 M544.5 347.5 h-1.5 M365.5 344.5 h2.5 M544.5 344.5 h-1.5 M365.5 340.5 h2.5 M544.5 340.5 h-1.5 M365.5 337.5 h2.5 M544.5 337.5 h-1.5 M365.5 334.5 h2.5 M544.5 334.5 h-1.5 M365.5 330.5 h4.5 M544.5 330.5 h-1.5 M365.5 327.5 h2.5 M544.5 327.5 h-1.5 M365.5 323.5 h2.5 M544.5 323.5 h-1.5 M365.5 320.5 h2.5 M544.5 320.5 h-1.5 M365.5 317.5 h2.5 M544.5 317.5 h-1.5 M365.5 313.5 h2.5 M544.5 313.5 h-1.5 M365.5 310.5 h2.5 M544.5 310.5 h-1.5 M365.5 307.5 h2.5 M544.5 307.5 h-1.5 M365.5 303.5 h2.5 M544.5 303.5 h-1.5 M365.5 300.5 h2.5 M544.5 300.5 h-1.5 M365.5 297.5 h4.5 M544.5 297.5 h-1.5 M365.5 293.5 h2.5 M544.5 293.5 h-1.5 M365.5 290.5 h2.5 M544.5 290.5 h-1.5 M365.5 287.5 h2.5 M544.5 287.5 h-1.5 M365.5 283.5 h2.5 M544.5 283.5 h-1.5 M365.5 280.5 h2.5 M544.5 280.5 h-1.5 M365.5 276.5 h2.5 M544.5 276.5 h-1.5 M365.5 273.5 h2.5 M544.5 273.5 h-1.5 M365.5 270.5 h2.5 M544.5 270.5 h-1.5 M365.5 266.5 h2.5 M544.5 266.5 h-1.5 M563.5 263.5 H581.5 V431.5 H563.5 Z M581.5 284.5 h-5 M581.5 305.5 h-5 M581.5 326.5 h-5 M581.5 347.5 h-5 M581.5 368.5 h-5 M581.5 389.5 h-5 M581.5 410.5 h-5" fill="none" stroke="#000" stroke-width="1" shape-rendering="crispEdges"/>
<path d="M34.91 203.34 L41.48 203.34 M48.78 201.64 L48.42 202.66 L47.69 203.34 L46.59 203.68 L46.23 203.68 L45.13 203.34 L44.41 202.66 L44.04 201.64 L44.04 201.30 L44.41 200.28 L45.13 199.60 L46.23 199.26 L46.59 199.26 L47.69 199.60 L48.42 200.28 L48.78 201.64 L48.78 203.34 L48.42 205.04 L47.69 206.06 L46.59 206.40 L45.87 206.40 L44.77 206.06 L44.41 205.38 M53.53 199.26 L52.43 199.60 L51.70 200.62 L51.34 202.32 L51.34 203.34 L51.70 205.04 L52.43 206.06 L53.53 206.40 L54.26 206.40 L55.35 206.06 L56.08 205.04 L56.45 203.34 L56.45 202.32 L56.08 200.62 L55.35 199.60 L54.26 199.26 L53.53 199.26 M89.88 199.26 L88.79 199.60 L88.06 200.62 L87.69 202.32 L87.69 203.34 L88.06 205.04 L88.79 206.06 L89.88 206.40 L90.61 206.40 L91.71 206.06 L92.44 205.04 L92.80 203.34 L92.80 202.32 L92.44 200.62 L91.71 199.60 L90.61 199.26 L89.88 199.26 M133.54 201.64 L133.18 202.66 L132.44 203.34 L131.35 203.68 L130.99 203.68 L129.89 203.34 L129.16 202.66 L128.80 201.64 L128.80 201.30 L129.16 200.28 L129.89 199.60 L130.99 199.26 L131.35 199.26 L132.44 199.60 L133.18 200.28 L133.54 201.64 L133.54 203.34 L133.18 205.04 L132.44 206.06 L131.35 206.40 L130.62 206.40 L129.53 206.06 L129.16 205.38 M138.28 199.26 L137.19 199.60 L136.46 200.62 L136.09 202.32 L136.09 203.34 L136.46 205.04 L137.19 206.06 L138.28 206.40 L139.01 206.40 L140.11 206.06 L140.84 205.04 L141.21 203.34 L141.21 202.32 L140.84 200.62 L140.11 199.60 L139.01 199.26 L138.28 199.26 M179.38 199.26 L178.29 199.60 L177.56 200.62 L177.19 202.32 L177.19 203.34 L177.56 205.04 L178.29 206.06 L179.38 206.40 L180.11 206.40 L181.21 206.06 L181.94 205.04 L182.31 203.34 L182.31 202.32 L181.94 200.62 L181.21 199.60 L180.11 199.26 L179.38 199.26 M213.92 203.34 L220.49 203.34 M227.78 201.64 L227.42 202.66 L226.69 203.34 L225.59 203.68 L225.23 203.68 L224.13 203.34 L223.41 202.66 L223.04 201.64 L223.04 201.30 L223.41 200.28 L224.13 199.60 L225.23 199.26 L225.59 199.26 L226.69 199.60 L227.42 200.28 L227.78 201.64 L227.78 203.34 L227.42 205.04 L226.69 206.06 L225.59 206.40 L224.86 206.40 L223.77 206.06 L223.41 205.38 M232.53 199.26 L231.44 199.60 L230.71 200.62 L230.34 202.32 L230.34 203.34 L230.71 205.04 L231.44 206.06 L232.53 206.40 L233.26 206.40 L234.36 206.06 L235.09 205.04 L235.45 203.34 L235.45 202.32 L235.09 200.62 L234.36 199.60 L233.26 199.26 L232.53 199.26 M33.24 185.48 L32.88 184.80 L31.78 184.46 L31.05 184.46 L29.95 184.80 L29.22 185.82 L28.86 187.52 L28.86 189.22 L29.22 190.58 L29.95 191.26 L31.05 191.60 L31.41 191.60 L32.51 191.26 L33.24 190.58 L33.60 189.56 L33.60 189.22 L33.24 188.20 L32.51 187.52 L31.41 187.18 L31.05 187.18 L29.95 187.52 L29.22 188.20 L28.86 189.22 M37.98 184.46 L36.89 184.80 L36.16 185.82 L35.80 187.52 L35.80 188.54 L36.16 190.24 L36.89 191.26 L37.98 191.60 L38.72 191.60 L39.81 191.26 L40.54 190.24 L40.91 188.54 L40.91 187.52 L40.54 185.82 L39.81 184.80 L38.72 184.46 L37.98 184.46 M33.60 154.56 L29.95 161.70 M28.49 154.56 L33.60 154.56 M37.98 154.56 L36.89 154.90 L36.16 155.92 L35.80 157.62 L35.80 158.64 L36.16 160.34 L36.89 161.36 L37.98 161.70 L38.72 161.70 L39.81 161.36 L40.54 160.34 L40.91 158.64 L40.91 157.62 L40.54 155.92 L39.81 154.90 L38.72 154.56 L37.98 154.56 M30.32 120.96 L29.22 121.30 L28.86 121.98 L28.86 122.66 L29.22 123.34 L29.95 123.68 L31.41 124.02 L32.51 124.36 L33.24 125.04 L33.60 125.72 L33.60 126.74 L33.24 127.42 L32.88 127.76 L31.78 128.10 L30.32 128.10 L29.22 127.76 L28.86 127.42 L28.49 126.74 L28.49 125.72 L28.86 125.04 L29.59 124.36 L30.68 124.02 L32.14 123.68 L32.88 123.34 L33.24 122.66 L33.24 121.98 L32.88 121.30 L31.78 120.96 L30.32 120.96 M37.98 120.96 L36.89 121.30 L36.16 122.32 L35.80 124.02 L35.80 125.04 L36.16 126.74 L36.89 127.76 L37.98 128.10 L38.72 128.10 L39.81 127.76 L40.54 126.74 L40.91 125.04 L40.91 124.02 L40.54 122.32 L39.81 121.30 L38.72 120.96 L37.98 120.96 M33.24 89.74 L32.88 90.76 L32.14 91.44 L31.05 91.78 L30.68 91.78 L29.59 91.44 L28.86 90.76 L28.49 89.74 L28.49 89.40 L28.86 88.38 L29.59 87.70 L30.68 87.36 L31.05 87.36 L32.14 87.70 L32.88 88.38 L33.24 89.74 L33.24 91.44 L32.88 93.14 L32.14 94.16 L31.05 94.50 L30.32 94.50 L29.22 94.16 L28.86 93.48 M37.98 87.36 L36.89 87.70 L36.16 88.72 L35.80 90.42 L35.80 91.44 L36.16 93.14 L36.89 94.16 L37.98 94.50 L38.72 94.50 L39.81 94.16 L40.54 93.14 L40.91 91.44 L40.91 90.42 L40.54 88.72 L39.81 87.70 L38.72 87.36 L37.98 87.36 M22.29 55.12 L23.02 54.78 L24.12 53.76 L24.12 60.90 M30.69 53.76 L29.59 54.10 L28.86 55.12 L28.50 56.82 L28.50 57.84 L28.86 59.54 L29.59 60.56 L30.69 60.90 L31.42 60.90 L32.51 60.56 L33.24 59.54 L33.61 57.84 L33.61 56.82 L33.24 55.12 L32.51 54.10 L31.42 53.76 L30.69 53.76 M37.98 53.76 L36.89 54.10 L36.16 55.12 L35.80 56.82 L35.80 57.84 L36.16 59.54 L36.89 60.56 L37.98 60.90 L38.72 60.90 L39.81 60.56 L40.54 59.54 L40.91 57.84 L40.91 56.82 L40.54 55.12 L39.81 54.10 L38.72 53.76 L37.98 53.76 M22.29 24.92 L23.02 24.58 L24.12 23.56 L24.12 30.70 M29.59 24.92 L30.32 24.58 L31.42 23.56 L31.42 30.70 M37.98 23.56 L36.89 23.90 L36.16 24.92 L35.80 26.62 L35.80 27.64 L36.16 29.34 L36.89 30.36 L37.98 30.70 L38.72 30.70 L39.81 30.36 L40.54 29.34 L40.91 27.64 L40.91 26.62 L40.54 24.92 L39.81 23.90 L38.72 23.56 L37.98 23.56 M109.45 212.74 L109.45 220.40 M109.45 220.40 L113.83 220.40 M119.67 215.29 L119.67 220.40 M119.67 216.39 L118.94 215.66 L118.21 215.29 L117.12 215.29 L116.39 215.66 L115.66 216.39 L115.29 217.48 L115.29 218.21 L115.66 219.31 L116.39 220.03 L117.12 220.40 L118.21 220.40 L118.94 220.03 L119.67 219.31 M122.95 212.74 L122.95 218.94 L123.32 220.03 L124.05 220.40 L124.78 220.40 M121.86 215.29 L124.41 215.29 M135.37 211.28 L134.63 212.00 L133.91 213.10 L133.18 214.56 L132.81 216.39 L132.81 217.84 L133.18 219.67 L133.91 221.13 L134.63 222.22 L135.37 222.96 M141.94 212.74 L141.94 220.40 M141.94 216.39 L141.20 215.66 L140.47 215.29 L139.38 215.29 L138.65 215.66 L137.92 216.39 L137.56 217.48 L137.56 218.21 L137.92 219.31 L138.65 220.03 L139.38 220.40 L140.47 220.40 L141.20 220.03 L141.94 219.31 M144.49 217.48 L148.87 217.48 L148.87 216.75 L148.50 216.02 L148.14 215.66 L147.41 215.29 L146.31 215.29 L145.59 215.66 L144.85 216.39 L144.49 217.48 L144.49 218.21 L144.85 219.31 L145.59 220.03 L146.31 220.40 L147.41 220.40 L148.14 220.03 L148.87 219.31 M155.44 215.29 L155.44 221.13 L155.07 222.22 L154.71 222.59 L153.98 222.96 L152.88 222.96 L152.16 222.59 M155.44 216.39 L154.71 215.66 L153.98 215.29 L152.88 215.29 L152.16 215.66 L151.43 216.39 L151.06 217.48 L151.06 218.21 L151.43 219.31 L152.16 220.03 L152.88 220.40 L153.98 220.40 L154.71 220.03 L155.44 219.31 M158.00 211.28 L158.72 212.00 L159.45 213.10 L160.19 214.56 L160.55 216.39 L160.55 217.84 L160.19 219.67 L159.45 221.13 L158.72 222.22 L158.00 222.96 M2.93 141.63 L10.60 144.55 M2.93 141.63 L10.60 138.71 M8.04 143.45 L8.04 139.80 M2.93 136.88 L10.60 136.88 M2.93 133.60 L9.14 133.60 L10.23 133.23 L10.60 132.50 L10.60 131.77 M5.49 134.69 L5.49 132.14 M2.93 129.95 L3.30 129.58 L2.93 129.22 L2.57 129.58 L2.93 129.95 M5.49 129.58 L10.60 129.58 M2.93 126.30 L9.14 126.30 L10.23 125.93 L10.60 125.20 L10.60 124.47 M5.49 127.39 L5.49 124.84 M5.49 122.28 L9.14 122.28 L10.23 121.92 L10.60 121.19 L10.60 120.09 L10.23 119.36 L9.14 118.27 M5.49 118.27 L10.60 118.27 M2.93 111.33 L10.60 111.33 M6.58 111.33 L5.85 112.06 L5.49 112.79 L5.49 113.89 L5.85 114.62 L6.58 115.35 L7.68 115.71 L8.41 115.71 L9.50 115.35 L10.23 114.62 L10.60 113.89 L10.60 112.79 L10.23 112.06 L9.50 111.33 M7.68 108.78 L7.68 104.40 L6.95 104.40 L6.22 104.76 L5.85 105.13 L5.49 105.86 L5.49 106.95 L5.85 107.68 L6.58 108.41 L7.68 108.78 L8.41 108.78 L9.50 108.41 L10.23 107.68 L10.60 106.95 L10.60 105.86 L10.23 105.13 L9.50 104.40 M1.47 93.45 L2.21 94.18 L3.30 94.91 L4.76 95.64 L6.58 96.00 L8.04 96.00 L9.87 95.64 L11.33 94.91 L12.42 94.18 L13.15 93.45 M2.93 90.89 L10.60 90.89 M5.49 87.24 L9.14 90.89 M7.68 89.43 L10.60 86.88 M5.49 84.69 L10.60 84.69 M6.95 84.69 L5.85 83.59 L5.49 82.86 L5.49 81.77 L5.85 81.04 L6.95 80.67 L10.60 80.67 M6.95 80.67 L5.85 79.58 L5.49 78.85 L5.49 77.75 L5.85 77.02 L6.95 76.66 L10.60 76.66 M1.47 74.10 L2.21 73.37 L3.30 72.64 L4.76 71.91 L6.58 71.55 L8.04 71.55 L9.87 71.91 L11.33 72.64 L12.42 73.37 L13.15 74.10 M33.08 7.61 L33.08 17.00 M33.08 7.61 L36.66 17.00 M40.24 7.61 L36.66 17.00 M40.24 7.61 L40.24 17.00 M43.36 13.42 L48.73 13.42 L48.73 12.53 L48.28 11.64 L47.83 11.19 L46.94 10.74 L45.60 10.74 L44.71 11.19 L43.81 12.08 L43.36 13.42 L43.36 14.32 L43.81 15.66 L44.71 16.55 L45.60 17.00 L46.94 17.00 L47.83 16.55 L48.73 15.66 M51.86 10.74 L51.86 17.00 M51.86 13.42 L52.30 12.08 L53.20 11.19 L54.09 10.74 L55.43 10.74 M57.22 7.61 L57.67 8.06 L58.12 7.61 L57.67 7.17 L57.22 7.61 M57.67 10.74 L57.67 17.00 M66.16 7.61 L66.16 17.00 M66.16 12.08 L65.27 11.19 L64.37 10.74 L63.03 10.74 L62.14 11.19 L61.24 12.08 L60.80 13.42 L60.80 14.32 L61.24 15.66 L62.14 16.55 L63.03 17.00 L64.37 17.00 L65.27 16.55 L66.16 15.66 M69.29 7.61 L69.74 8.06 L70.18 7.61 L69.74 7.17 L69.29 7.61 M69.74 10.74 L69.74 17.00 M75.10 10.74 L74.21 11.19 L73.31 12.08 L72.87 13.42 L72.87 14.32 L73.31 15.66 L74.21 16.55 L75.10 17.00 L76.44 17.00 L77.34 16.55 L78.23 15.66 L78.68 14.32 L78.68 13.42 L78.23 12.08 L77.34 11.19 L76.44 10.74 L75.10 10.74 M81.81 10.74 L81.81 17.00 M81.81 12.53 L83.15 11.19 L84.04 10.74 L85.38 10.74 L86.28 11.19 L86.72 12.53 L86.72 17.00 M95.22 10.74 L95.22 17.00 M95.22 12.08 L94.32 11.19 L93.43 10.74 L92.09 10.74 L91.19 11.19 L90.30 12.08 L89.85 13.42 L89.85 14.32 L90.30 15.66 L91.19 16.55 L92.09 17.00 L93.43 17.00 L94.32 16.55 L95.22 15.66 M98.79 7.61 L98.79 17.00 M108.63 7.61 L110.86 17.00 M113.10 7.61 L110.86 17.00 M113.10 7.61 L115.33 17.00 M117.57 7.61 L115.33 17.00 M119.80 7.61 L120.25 8.06 L120.70 7.61 L120.25 7.17 L119.80 7.61 M120.25 10.74 L120.25 17.00 M123.83 10.74 L123.83 17.00 M123.83 12.53 L125.17 11.19 L126.06 10.74 L127.40 10.74 L128.29 11.19 L128.74 12.53 L128.74 17.00 M137.24 7.61 L137.24 17.00 M137.24 12.08 L136.34 11.19 L135.45 10.74 L134.11 10.74 L133.21 11.19 L132.32 12.08 L131.87 13.42 L131.87 14.32 L132.32 15.66 L133.21 16.55 L134.11 17.00 L135.45 17.00 L136.34 16.55 L137.24 15.66 M145.28 12.08 L144.83 11.19 L143.49 10.74 L142.15 10.74 L140.81 11.19 L140.36 12.08 L140.81 12.98 L141.71 13.42 L143.94 13.87 L144.83 14.32 L145.28 15.21 L145.28 15.66 L144.83 16.55 L143.49 17.00 L142.15 17.00 L140.81 16.55 L140.36 15.66 M158.69 5.82 L157.80 6.72 L156.90 8.06 L156.01 9.85 L155.56 12.08 L155.56 13.87 L156.01 16.11 L156.90 17.89 L157.80 19.23 L158.69 20.13 M161.37 10.74 L163.16 17.00 M164.95 10.74 L163.16 17.00 M164.95 10.74 L166.74 17.00 M168.53 10.74 L166.74 17.00 M176.57 10.74 L176.57 17.00 M176.57 12.08 L175.68 11.19 L174.78 10.74 L173.44 10.74 L172.55 11.19 L171.65 12.08 L171.21 13.42 L171.21 14.32 L171.65 15.66 L172.55 16.55 L173.44 17.00 L174.78 17.00 L175.68 16.55 L176.57 15.66 M180.15 10.74 L180.15 17.00 M180.15 13.42 L180.59 12.08 L181.49 11.19 L182.38 10.74 L183.72 10.74 M185.96 10.74 L185.96 17.00 M185.96 12.53 L187.30 11.19 L188.19 10.74 L189.53 10.74 L190.43 11.19 L190.88 12.53 L190.88 17.00 M190.88 12.53 L192.22 11.19 L193.11 10.74 L194.45 10.74 L195.34 11.19 L195.79 12.53 L195.79 17.00 M210.99 12.08 L210.54 11.19 L209.20 10.74 L207.86 10.74 L206.52 11.19 L206.07 12.08 L206.52 12.98 L207.41 13.42 L209.65 13.87 L210.54 14.32 L210.99 15.21 L210.99 15.66 L210.54 16.55 L209.20 17.00 L207.86 17.00 L206.52 16.55 L206.07 15.66 M213.67 7.61 L214.12 8.06 L214.57 7.61 L214.12 7.17 L213.67 7.61 M214.12 10.74 L214.12 17.00 M222.61 7.61 L222.61 17.00 M222.61 12.08 L221.72 11.19 L220.82 10.74 L219.48 10.74 L218.59 11.19 L217.69 12.08 L217.25 13.42 L217.25 14.32 L217.69 15.66 L218.59 16.55 L219.48 17.00 L220.82 17.00 L221.72 16.55 L222.61 15.66 M225.74 13.42 L231.10 13.42 L231.10 12.53 L230.66 11.64 L230.21 11.19 L229.32 10.74 L227.98 10.74 L227.08 11.19 L226.19 12.08 L225.74 13.42 L225.74 14.32 L226.19 15.66 L227.08 16.55 L227.98 17.00 L229.32 17.00 L230.21 16.55 L231.10 15.66 M233.79 5.82 L234.68 6.72 L235.57 8.06 L236.47 9.85 L236.92 12.08 L236.92 13.87 L236.47 16.11 L235.57 17.89 L234.68 19.23 L233.79 20.13 M280.60 19.26 L280.60 18.92 L280.96 18.24 L281.33 17.90 L282.06 17.56 L283.52 17.56 L284.25 17.90 L284.62 18.24 L284.98 18.92 L284.98 19.60 L284.62 20.28 L283.88 21.30 L280.24 24.70 L285.34 24.70 M289.73 17.56 L288.63 17.90 L287.90 18.92 L287.54 20.62 L287.54 21.64 L287.90 23.34 L288.63 24.36 L289.73 24.70 L290.45 24.70 L291.55 24.36 L292.28 23.34 L292.64 21.64 L292.64 20.62 L292.28 18.92 L291.55 17.90 L290.45 17.56 L289.73 17.56 M297.03 17.56 L295.93 17.90 L295.20 18.92 L294.84 20.62 L294.84 21.64 L295.20 23.34 L295.93 24.36 L297.03 24.70 L297.75 24.70 L298.85 24.36 L299.58 23.34 L299.94 21.64 L299.94 20.62 L299.58 18.92 L298.85 17.90 L297.75 17.56 L297.03 17.56 M302.87 24.02 L302.50 24.36 L302.87 24.70 L303.23 24.36 L302.87 24.02 M307.98 17.56 L306.88 17.90 L306.15 18.92 L305.79 20.62 L305.79 21.64 L306.15 23.34 L306.88 24.36 L307.98 24.70 L308.70 24.70 L309.80 24.36 L310.53 23.34 L310.89 21.64 L310.89 20.62 L310.53 18.92 L309.80 17.90 L308.70 17.56 L307.98 17.56 M281.33 39.92 L282.06 39.58 L283.15 38.56 L283.15 45.70 M291.92 38.56 L288.26 38.56 L287.90 41.62 L288.26 41.28 L289.36 40.94 L290.45 40.94 L291.55 41.28 L292.28 41.96 L292.64 42.98 L292.64 43.66 L292.28 44.68 L291.55 45.36 L290.45 45.70 L289.36 45.70 L288.26 45.36 L287.90 45.02 L287.54 44.34 M297.03 38.56 L295.93 38.90 L295.20 39.92 L294.84 41.62 L294.84 42.64 L295.20 44.34 L295.93 45.36 L297.03 45.70 L297.75 45.70 L298.85 45.36 L299.58 44.34 L299.94 42.64 L299.94 41.62 L299.58 39.92 L298.85 38.90 L297.75 38.56 L297.03 38.56 M302.87 45.02 L302.50 45.36 L302.87 45.70 L303.23 45.36 L302.87 45.02 M307.98 38.56 L306.88 38.90 L306.15 39.92 L305.79 41.62 L305.79 42.64 L306.15 44.34 L306.88 45.36 L307.98 45.70 L308.70 45.70 L309.80 45.36 L310.53 44.34 L310.89 42.64 L310.89 41.62 L310.53 39.92 L309.80 38.90 L308.70 38.56 L307.98 38.56 M281.33 60.92 L282.06 60.58 L283.15 59.56 L283.15 66.70 M289.73 59.56 L288.63 59.90 L287.90 60.92 L287.54 62.62 L287.54 63.64 L287.90 65.34 L288.63 66.36 L289.73 66.70 L290.45 66.70 L291.55 66.36 L292.28 65.34 L292.64 63.64 L292.64 62.62 L292.28 60.92 L291.55 59.90 L290.45 59.56 L289.73 59.56 M297.03 59.56 L295.93 59.90 L295.20 60.92 L294.84 62.62 L294.84 63.64 L295.20 65.34 L295.93 66.36 L297.03 66.70 L297.75 66.70 L298.85 66.36 L299.58 65.34 L299.94 63.64 L299.94 62.62 L299.58 60.92 L298.85 59.90 L297.75 59.56 L297.03 59.56 M302.87 66.02 L302.50 66.36 L302.87 66.70 L303.23 66.36 L302.87 66.02 M307.98 59.56 L306.88 59.90 L306.15 60.92 L305.79 62.62 L305.79 63.64 L306.15 65.34 L306.88 66.36 L307.98 66.70 L308.70 66.70 L309.80 66.36 L310.53 65.34 L310.89 63.64 L310.89 62.62 L310.53 60.92 L309.80 59.90 L308.70 59.56 L307.98 59.56 M290.46 80.56 L286.81 80.56 L286.44 83.62 L286.81 83.28 L287.90 82.94 L289.00 82.94 L290.09 83.28 L290.82 83.96 L291.19 84.98 L291.19 85.66 L290.82 86.68 L290.09 87.36 L289.00 87.70 L287.90 87.70 L286.81 87.36 L286.44 87.02 L286.08 86.34 M295.57 80.56 L294.47 80.90 L293.74 81.92 L293.38 83.62 L293.38 84.64 L293.74 86.34 L294.47 87.36 L295.57 87.70 L296.30 87.70 L297.39 87.36 L298.12 86.34 L298.49 84.64 L298.49 83.62 L298.12 81.92 L297.39 80.90 L296.30 80.56 L295.57 80.56 M301.41 87.02 L301.04 87.36 L301.41 87.70 L301.77 87.36 L301.41 87.02 M306.52 80.56 L305.42 80.90 L304.69 81.92 L304.33 83.62 L304.33 84.64 L304.69 86.34 L305.42 87.36 L306.52 87.70 L307.25 87.70 L308.34 87.36 L309.07 86.34 L309.44 84.64 L309.44 83.62 L309.07 81.92 L308.34 80.90 L307.25 80.56 L306.52 80.56 M294.11 101.56 L293.01 101.90 L292.28 102.92 L291.92 104.62 L291.92 105.64 L292.28 107.34 L293.01 108.36 L294.11 108.70 L294.83 108.70 L295.93 108.36 L296.66 107.34 L297.02 105.64 L297.02 104.62 L296.66 102.92 L295.93 101.90 L294.83 101.56 L294.11 101.56 M299.94 108.02 L299.58 108.36 L299.94 108.70 L300.31 108.36 L299.94 108.02 M305.06 101.56 L303.96 101.90 L303.23 102.92 L302.87 104.62 L302.87 105.64 L303.23 107.34 L303.96 108.36 L305.06 108.70 L305.78 108.70 L306.88 108.36 L307.61 107.34 L307.97 105.64 L307.97 104.62 L307.61 102.92 L306.88 101.90 L305.78 101.56 L305.06 101.56 M280.60 126.64 L287.17 126.64 M294.11 122.56 L290.45 122.56 L290.09 125.62 L290.45 125.28 L291.55 124.94 L292.64 124.94 L293.74 125.28 L294.47 125.96 L294.83 126.98 L294.83 127.66 L294.47 128.68 L293.74 129.36 L292.64 129.70 L291.55 129.70 L290.45 129.36 L290.09 129.02 L289.73 128.34 M299.22 122.56 L298.12 122.90 L297.39 123.92 L297.03 125.62 L297.03 126.64 L297.39 128.34 L298.12 129.36 L299.22 129.70 L299.94 129.70 L301.04 129.36 L301.77 128.34 L302.13 126.64 L302.13 125.62 L301.77 123.92 L301.04 122.90 L299.94 122.56 L299.22 122.56 M305.06 129.02 L304.69 129.36 L305.06 129.70 L305.42 129.36 L305.06 129.02 M310.17 122.56 L309.07 122.90 L308.34 123.92 L307.98 125.62 L307.98 126.64 L308.34 128.34 L309.07 129.36 L310.17 129.70 L310.89 129.70 L311.99 129.36 L312.72 128.34 L313.08 126.64 L313.08 125.62 L312.72 123.92 L311.99 122.90 L310.89 122.56 L310.17 122.56 M274.76 147.64 L281.33 147.64 M284.98 144.92 L285.71 144.58 L286.81 143.56 L286.81 150.70 M293.38 143.56 L292.28 143.90 L291.55 144.92 L291.19 146.62 L291.19 147.64 L291.55 149.34 L292.28 150.36 L293.38 150.70 L294.11 150.70 L295.20 150.36 L295.93 149.34 L296.30 147.64 L296.30 146.62 L295.93 144.92 L295.20 143.90 L294.11 143.56 L293.38 143.56 M300.68 143.56 L299.58 143.90 L298.85 144.92 L298.49 146.62 L298.49 147.64 L298.85 149.34 L299.58 150.36 L300.68 150.70 L301.40 150.70 L302.50 150.36 L303.23 149.34 L303.59 147.64 L303.59 146.62 L303.23 144.92 L302.50 143.90 L301.40 143.56 L300.68 143.56 M306.51 150.02 L306.15 150.36 L306.51 150.70 L306.88 150.36 L306.51 150.02 M311.63 143.56 L310.53 143.90 L309.80 144.92 L309.44 146.62 L309.44 147.64 L309.80 149.34 L310.53 150.36 L311.63 150.70 L312.36 150.70 L313.45 150.36 L314.18 149.34 L314.55 147.64 L314.55 146.62 L314.18 144.92 L313.45 143.90 L312.36 143.56 L311.63 143.56 M274.76 168.64 L281.33 168.64 M284.98 165.92 L285.71 165.58 L286.81 164.56 L286.81 171.70 M295.57 164.56 L291.92 164.56 L291.55 167.62 L291.92 167.28 L293.01 166.94 L294.11 166.94 L295.20 167.28 L295.93 167.96 L296.30 168.98 L296.30 169.66 L295.93 170.68 L295.20 171.36 L294.11 171.70 L293.01 171.70 L291.92 171.36 L291.55 171.02 L291.19 170.34 M300.68 164.56 L299.58 164.90 L298.85 165.92 L298.49 167.62 L298.49 168.64 L298.85 170.34 L299.58 171.36 L300.68 171.70 L301.40 171.70 L302.50 171.36 L303.23 170.34 L303.59 168.64 L303.59 167.62 L303.23 165.92 L302.50 164.90 L301.40 164.56 L300.68 164.56 M306.51 171.02 L306.15 171.36 L306.51 171.70 L306.88 171.36 L306.51 171.02 M311.63 164.56 L310.53 164.90 L309.80 165.92 L309.44 167.62 L309.44 168.64 L309.80 170.34 L310.53 171.36 L311.63 171.70 L312.36 171.70 L313.45 171.36 L314.18 170.34 L314.55 168.64 L314.55 167.62 L314.18 165.92 L313.45 164.90 L312.36 164.56 L311.63 164.56 M274.76 189.64 L281.33 189.64 M284.25 187.26 L284.25 186.92 L284.62 186.24 L284.98 185.90 L285.71 185.56 L287.17 185.56 L287.90 185.90 L288.27 186.24 L288.63 186.92 L288.63 187.60 L288.27 188.28 L287.54 189.30 L283.89 192.70 L289.00 192.70 M293.38 185.56 L292.28 185.90 L291.55 186.92 L291.19 188.62 L291.19 189.64 L291.55 191.34 L292.28 192.36 L293.38 192.70 L294.11 192.70 L295.20 192.36 L295.93 191.34 L296.30 189.64 L296.30 188.62 L295.93 186.92 L295.20 185.90 L294.11 185.56 L293.38 185.56 M300.68 185.56 L299.58 185.90 L298.85 186.92 L298.49 188.62 L298.49 189.64 L298.85 191.34 L299.58 192.36 L300.68 192.70 L301.40 192.70 L302.50 192.36 L303.23 191.34 L303.59 189.64 L303.59 188.62 L303.23 186.92 L302.50 185.90 L301.40 185.56 L300.68 185.56 M306.51 192.02 L306.15 192.36 L306.51 192.70 L306.88 192.36 L306.51 192.02 M311.63 185.56 L310.53 185.90 L309.80 186.92 L309.44 188.62 L309.44 189.64 L309.80 191.34 L310.53 192.36 L311.63 192.70 L312.36 192.70 L313.45 192.36 L314.18 191.34 L314.55 189.64 L314.55 188.62 L314.18 186.92 L313.45 185.90 L312.36 185.56 L311.63 185.56 M354.91 203.34 L361.48 203.34 M368.78 201.64 L368.42 202.66 L367.69 203.34 L366.59 203.68 L366.23 203.68 L365.13 203.34 L364.40 202.66 L364.04 201.64 L364.04 201.30 L364.40 200.28 L365.13 199.60 L366.23 199.26 L366.59 199.26 L367.69 199.60 L368.42 200.28 L368.78 201.64 L368.78 203.34 L368.42 205.04 L367.69 206.06 L366.59 206.40 L365.87 206.40 L364.77 206.06 L364.40 205.38 M373.53 199.26 L372.44 199.60 L371.70 200.62 L371.34 202.32 L371.34 203.34 L371.70 205.04 L372.44 206.06 L373.53 206.40 L374.26 206.40 L375.36 206.06 L376.08 205.04 L376.45 203.34 L376.45 202.32 L376.08 200.62 L375.36 199.60 L374.26 199.26 L373.53 199.26 M409.89 199.26 L408.79 199.60 L408.06 200.62 L407.70 202.32 L407.70 203.34 L408.06 205.04 L408.79 206.06 L409.89 206.40 L410.62 206.40 L411.71 206.06 L412.44 205.04 L412.81 203.34 L412.81 202.32 L412.44 200.62 L411.71 199.60 L410.62 199.26 L409.89 199.26 M453.54 201.64 L453.18 202.66 L452.44 203.34 L451.35 203.68 L450.99 203.68 L449.89 203.34 L449.16 202.66 L448.80 201.64 L448.80 201.30 L449.16 200.28 L449.89 199.60 L450.99 199.26 L451.35 199.26 L452.44 199.60 L453.18 200.28 L453.54 201.64 L453.54 203.34 L453.18 205.04 L452.44 206.06 L451.35 206.40 L450.62 206.40 L449.52 206.06 L449.16 205.38 M458.29 199.26 L457.19 199.60 L456.46 200.62 L456.10 202.32 L456.10 203.34 L456.46 205.04 L457.19 206.06 L458.29 206.40 L459.01 206.40 L460.11 206.06 L460.84 205.04 L461.20 203.34 L461.20 202.32 L460.84 200.62 L460.11 199.60 L459.01 199.26 L458.29 199.26 M499.39 199.26 L498.29 199.60 L497.56 200.62 L497.20 202.32 L497.20 203.34 L497.56 205.04 L498.29 206.06 L499.39 206.40 L500.12 206.40 L501.21 206.06 L501.94 205.04 L502.31 203.34 L502.31 202.32 L501.94 200.62 L501.21 199.60 L500.12 199.26 L499.39 199.26 M533.92 203.34 L540.49 203.34 M547.79 201.64 L547.42 202.66 L546.69 203.34 L545.60 203.68 L545.23 203.68 L544.14 203.34 L543.41 202.66 L543.04 201.64 L543.04 201.30 L543.41 200.28 L544.14 199.60 L545.23 199.26 L545.60 199.26 L546.69 199.60 L547.42 200.28 L547.79 201.64 L547.79 203.34 L547.42 205.04 L546.69 206.06 L545.60 206.40 L544.87 206.40 L543.77 206.06 L543.41 205.38 M552.53 199.26 L551.44 199.60 L550.71 200.62 L550.34 202.32 L550.34 203.34 L550.71 205.04 L551.44 206.06 L552.53 206.40 L553.26 206.40 L554.36 206.06 L555.09 205.04 L555.45 203.34 L555.45 202.32 L555.09 200.62 L554.36 199.60 L553.26 199.26 L552.53 199.26 M353.24 185.48 L352.88 184.80 L351.78 184.46 L351.05 184.46 L349.95 184.80 L349.22 185.82 L348.86 187.52 L348.86 189.22 L349.22 190.58 L349.95 191.26 L351.05 191.60 L351.41 191.60 L352.51 191.26 L353.24 190.58 L353.60 189.56 L353.60 189.22 L353.24 188.20 L352.51 187.52 L351.41 187.18 L351.05 187.18 L349.95 187.52 L349.22 188.20 L348.86 189.22 M357.99 184.46 L356.89 184.80 L356.16 185.82 L355.80 187.52 L355.80 188.54 L356.16 190.24 L356.89 191.26 L357.99 191.60 L358.71 191.60 L359.81 191.26 L360.54 190.24 L360.90 188.54 L360.90 187.52 L360.54 185.82 L359.81 184.80 L358.71 184.46 L357.99 184.46 M353.60 154.56 L349.95 161.70 M348.50 154.56 L353.60 154.56 M357.99 154.56 L356.89 154.90 L356.16 155.92 L355.80 157.62 L355.80 158.64 L356.16 160.34 L356.89 161.36 L357.99 161.70 L358.71 161.70 L359.81 161.36 L360.54 160.34 L360.90 158.64 L360.90 157.62 L360.54 155.92 L359.81 154.90 L358.71 154.56 L357.99 154.56 M350.32 120.96 L349.22 121.30 L348.86 121.98 L348.86 122.66 L349.22 123.34 L349.95 123.68 L351.41 124.02 L352.51 124.36 L353.24 125.04 L353.60 125.72 L353.60 126.74 L353.24 127.42 L352.88 127.76 L351.78 128.10 L350.32 128.10 L349.22 127.76 L348.86 127.42 L348.50 126.74 L348.50 125.72 L348.86 125.04 L349.59 124.36 L350.69 124.02 L352.14 123.68 L352.88 123.34 L353.24 122.66 L353.24 121.98 L352.88 121.30 L351.78 120.96 L350.32 120.96 M357.99 120.96 L356.89 121.30 L356.16 122.32 L355.80 124.02 L355.80 125.04 L356.16 126.74 L356.89 127.76 L357.99 128.10 L358.71 128.10 L359.81 127.76 L360.54 126.74 L360.90 125.04 L360.90 124.02 L360.54 122.32 L359.81 121.30 L358.71 120.96 L357.99 120.96 M353.24 89.74 L352.88 90.76 L352.14 91.44 L351.05 91.78 L350.69 91.78 L349.59 91.44 L348.86 90.76 L348.50 89.74 L348.50 89.40 L348.86 88.38 L349.59 87.70 L350.69 87.36 L351.05 87.36 L352.14 87.70 L352.88 88.38 L353.24 89.74 L353.24 91.44 L352.88 93.14 L352.14 94.16 L351.05 94.50 L350.32 94.50 L349.22 94.16 L348.86 93.48 M357.99 87.36 L356.89 87.70 L356.16 88.72 L355.80 90.42 L355.80 91.44 L356.16 93.14 L356.89 94.16 L357.99 94.50 L358.71 94.50 L359.81 94.16 L360.54 93.14 L360.90 91.44 L360.90 90.42 L360.54 88.72 L359.81 87.70 L358.71 87.36 L357.99 87.36 M342.29 55.12 L343.02 54.78 L344.12 53.76 L344.12 60.90 M350.69 53.76 L349.59 54.10 L348.86 55.12 L348.50 56.82 L348.50 57.84 L348.86 59.54 L349.59 60.56 L350.69 60.90 L351.41 60.90 L352.51 60.56 L353.24 59.54 L353.60 57.84 L353.60 56.82 L353.24 55.12 L352.51 54.10 L351.41 53.76 L350.69 53.76 M357.99 53.76 L356.89 54.10 L356.16 55.12 L355.80 56.82 L355.80 57.84 L356.16 59.54 L356.89 60.56 L357.99 60.90 L358.71 60.90 L359.81 60.56 L360.54 59.54 L360.90 57.84 L360.90 56.82 L360.54 55.12 L359.81 54.10 L358.71 53.76 L357.99 53.76 M342.29 24.92 L343.02 24.58 L344.12 23.56 L344.12 30.70 M349.59 24.92 L350.32 24.58 L351.41 23.56 L351.41 30.70 M357.99 23.56 L356.89 23.90 L356.16 24.92 L355.80 26.62 L355.80 27.64 L356.16 29.34 L356.89 30.36 L357.99 30.70 L358.71 30.70 L359.81 30.36 L360.54 29.34 L360.90 27.64 L360.90 26.62 L360.54 24.92 L359.81 23.90 L358.71 23.56 L357.99 23.56 M429.45 212.74 L429.45 220.40 M429.45 220.40 L433.83 220.40 M439.67 215.29 L439.67 220.40 M439.67 216.39 L438.94 215.66 L438.21 215.29 L437.12 215.29 L436.38 215.66 L435.65 216.39 L435.29 217.48 L435.29 218.21 L435.65 219.31 L436.38 220.03 L437.12 220.40 L438.21 220.40 L438.94 220.03 L439.67 219.31 M442.95 212.74 L442.95 218.94 L443.32 220.03 L444.05 220.40 L444.78 220.40 M441.86 215.29 L444.42 215.29 M455.37 211.28 L454.63 212.00 L453.90 213.10 L453.18 214.56 L452.81 216.39 L452.81 217.84 L453.18 219.67 L453.90 221.13 L454.63 222.22 L455.37 222.96 M461.94 212.74 L461.94 220.40 M461.94 216.39 L461.20 215.66 L460.48 215.29 L459.38 215.29 L458.65 215.66 L457.92 216.39 L457.56 217.48 L457.56 218.21 L457.92 219.31 L458.65 220.03 L459.38 220.40 L460.48 220.40 L461.20 220.03 L461.94 219.31 M464.49 217.48 L468.87 217.48 L468.87 216.75 L468.50 216.02 L468.14 215.66 L467.41 215.29 L466.31 215.29 L465.58 215.66 L464.86 216.39 L464.49 217.48 L464.49 218.21 L464.86 219.31 L465.58 220.03 L466.31 220.40 L467.41 220.40 L468.14 220.03 L468.87 219.31 M475.44 215.29 L475.44 221.13 L475.07 222.22 L474.71 222.59 L473.98 222.96 L472.88 222.96 L472.15 222.59 M475.44 216.39 L474.71 215.66 L473.98 215.29 L472.88 215.29 L472.15 215.66 L471.43 216.39 L471.06 217.48 L471.06 218.21 L471.43 219.31 L472.15 220.03 L472.88 220.40 L473.98 220.40 L474.71 220.03 L475.44 219.31 M478.00 211.28 L478.73 212.00 L479.45 213.10 L480.19 214.56 L480.55 216.39 L480.55 217.84 L480.19 219.67 L479.45 221.13 L478.73 222.22 L478.00 222.96 M322.94 141.63 L330.60 144.55 M322.94 141.63 L330.60 138.71 M328.05 143.45 L328.05 139.80 M322.94 136.88 L330.60 136.88 M322.94 133.60 L329.14 133.60 L330.24 133.23 L330.60 132.50 L330.60 131.77 M325.49 134.69 L325.49 132.14 M322.94 129.95 L323.30 129.58 L322.94 129.22 L322.57 129.58 L322.94 129.95 M325.49 129.58 L330.60 129.58 M322.94 126.30 L329.14 126.30 L330.24 125.93 L330.60 125.20 L330.60 124.47 M325.49 127.39 L325.49 124.84 M325.49 122.28 L329.14 122.28 L330.24 121.92 L330.60 121.19 L330.60 120.09 L330.24 119.36 L329.14 118.27 M325.49 118.27 L330.60 118.27 M322.94 111.33 L330.60 111.33 M326.59 111.33 L325.86 112.06 L325.49 112.79 L325.49 113.89 L325.86 114.62 L326.59 115.35 L327.68 115.71 L328.41 115.71 L329.50 115.35 L330.24 114.62 L330.60 113.89 L330.60 112.79 L330.24 112.06 L329.50 111.33 M327.68 108.78 L327.68 104.40 L326.95 104.40 L326.22 104.76 L325.86 105.13 L325.49 105.86 L325.49 106.95 L325.86 107.68 L326.59 108.41 L327.68 108.78 L328.41 108.78 L329.50 108.41 L330.24 107.68 L330.60 106.95 L330.60 105.86 L330.24 105.13 L329.50 104.40 M321.48 93.45 L322.21 94.18 L323.30 94.91 L324.76 95.64 L326.59 96.00 L328.05 96.00 L329.87 95.64 L331.33 94.91 L332.43 94.18 L333.16 93.45 M322.94 90.89 L330.60 90.89 M325.49 87.24 L329.14 90.89 M327.68 89.43 L330.60 86.88 M325.49 84.69 L330.60 84.69 M326.95 84.69 L325.86 83.59 L325.49 82.86 L325.49 81.77 L325.86 81.04 L326.95 80.67 L330.60 80.67 M326.95 80.67 L325.86 79.58 L325.49 78.85 L325.49 77.75 L325.86 77.02 L326.95 76.66 L330.60 76.66 M321.48 74.10 L322.21 73.37 L323.30 72.64 L324.76 71.91 L326.59 71.55 L328.05 71.55 L329.87 71.91 L331.33 72.64 L332.43 73.37 L333.16 74.10 M374.54 7.61 L368.28 17.00 M368.28 7.61 L374.54 7.61 M368.28 17.00 L374.54 17.00 M379.46 10.74 L378.56 11.19 L377.67 12.08 L377.22 13.42 L377.22 14.32 L377.67 15.66 L378.56 16.55 L379.46 17.00 L380.80 17.00 L381.69 16.55 L382.59 15.66 L383.03 14.32 L383.03 13.42 L382.59 12.08 L381.69 11.19 L380.80 10.74 L379.46 10.74 M386.16 10.74 L386.16 17.00 M386.16 12.53 L387.50 11.19 L388.40 10.74 L389.74 10.74 L390.63 11.19 L391.08 12.53 L391.08 17.00 M399.57 10.74 L399.57 17.00 M399.57 12.08 L398.68 11.19 L397.78 10.74 L396.44 10.74 L395.55 11.19 L394.65 12.08 L394.21 13.42 L394.21 14.32 L394.65 15.66 L395.55 16.55 L396.44 17.00 L397.78 17.00 L398.68 16.55 L399.57 15.66 M403.15 7.61 L403.15 17.00 M412.98 7.61 L415.22 17.00 M417.45 7.61 L415.22 17.00 M417.45 7.61 L419.69 17.00 M421.92 7.61 L419.69 17.00 M424.16 7.61 L424.60 8.06 L425.05 7.61 L424.60 7.17 L424.16 7.61 M424.60 10.74 L424.60 17.00 M428.18 10.74 L428.18 17.00 M428.18 12.53 L429.52 11.19 L430.42 10.74 L431.76 10.74 L432.65 11.19 L433.10 12.53 L433.10 17.00 M441.59 7.61 L441.59 17.00 M441.59 12.08 L440.70 11.19 L439.80 10.74 L438.46 10.74 L437.57 11.19 L436.67 12.08 L436.23 13.42 L436.23 14.32 L436.67 15.66 L437.57 16.55 L438.46 17.00 L439.80 17.00 L440.70 16.55 L441.59 15.66 M449.64 12.08 L449.19 11.19 L447.85 10.74 L446.51 10.74 L445.17 11.19 L444.72 12.08 L445.17 12.98 L446.06 13.42 L448.30 13.87 L449.19 14.32 L449.64 15.21 L449.64 15.66 L449.19 16.55 L447.85 17.00 L446.51 17.00 L445.17 16.55 L444.72 15.66 M463.05 5.82 L462.15 6.72 L461.26 8.06 L460.36 9.85 L459.92 12.08 L459.92 13.87 L460.36 16.11 L461.26 17.89 L462.15 19.23 L463.05 20.13 M465.73 10.74 L467.52 17.00 M469.30 10.74 L467.52 17.00 M469.30 10.74 L471.09 17.00 M472.88 10.74 L471.09 17.00 M480.93 10.74 L480.93 17.00 M480.93 12.08 L480.03 11.19 L479.14 10.74 L477.80 10.74 L476.90 11.19 L476.01 12.08 L475.56 13.42 L475.56 14.32 L476.01 15.66 L476.90 16.55 L477.80 17.00 L479.14 17.00 L480.03 16.55 L480.93 15.66 M484.50 10.74 L484.50 17.00 M484.50 13.42 L484.95 12.08 L485.84 11.19 L486.74 10.74 L488.08 10.74 M490.31 10.74 L490.31 17.00 M490.31 12.53 L491.65 11.19 L492.55 10.74 L493.89 10.74 L494.78 11.19 L495.23 12.53 L495.23 17.00 M495.23 12.53 L496.57 11.19 L497.47 10.74 L498.81 10.74 L499.70 11.19 L500.15 12.53 L500.15 17.00 M515.35 12.08 L514.90 11.19 L513.56 10.74 L512.22 10.74 L510.88 11.19 L510.43 12.08 L510.88 12.98 L511.77 13.42 L514.00 13.87 L514.90 14.32 L515.35 15.21 L515.35 15.66 L514.90 16.55 L513.56 17.00 L512.22 17.00 L510.88 16.55 L510.43 15.66 M518.03 7.61 L518.47 8.06 L518.92 7.61 L518.47 7.17 L518.03 7.61 M518.47 10.74 L518.47 17.00 M526.97 7.61 L526.97 17.00 M526.97 12.08 L526.07 11.19 L525.18 10.74 L523.84 10.74 L522.94 11.19 L522.05 12.08 L521.60 13.42 L521.60 14.32 L522.05 15.66 L522.94 16.55 L523.84 17.00 L525.18 17.00 L526.07 16.55 L526.97 15.66 M530.10 13.42 L535.46 13.42 L535.46 12.53 L535.01 11.64 L534.57 11.19 L533.67 10.74 L532.33 10.74 L531.44 11.19 L530.54 12.08 L530.10 13.42 L530.10 14.32 L530.54 15.66 L531.44 16.55 L532.33 17.00 L533.67 17.00 L534.57 16.55 L535.46 15.66 M538.14 5.82 L539.04 6.72 L539.93 8.06 L540.82 9.85 L541.27 12.08 L541.27 13.87 L540.82 16.11 L539.93 17.89 L539.04 19.23 L538.14 20.13 M594.40 19.26 L594.40 18.92 L594.77 18.24 L595.13 17.90 L595.86 17.56 L597.32 17.56 L598.05 17.90 L598.42 18.24 L598.78 18.92 L598.78 19.60 L598.42 20.28 L597.69 21.30 L594.04 24.70 L599.15 24.70 M603.52 17.56 L602.43 17.90 L601.70 18.92 L601.34 20.62 L601.34 21.64 L601.70 23.34 L602.43 24.36 L603.52 24.70 L604.25 24.70 L605.35 24.36 L606.08 23.34 L606.45 21.64 L606.45 20.62 L606.08 18.92 L605.35 17.90 L604.25 17.56 L603.52 17.56 M610.83 17.56 L609.73 17.90 L609.00 18.92 L608.64 20.62 L608.64 21.64 L609.00 23.34 L609.73 24.36 L610.83 24.70 L611.56 24.70 L612.65 24.36 L613.38 23.34 L613.75 21.64 L613.75 20.62 L613.38 18.92 L612.65 17.90 L611.56 17.56 L610.83 17.56 M616.67 24.02 L616.30 24.36 L616.67 24.70 L617.03 24.36 L616.67 24.02 M621.77 17.56 L620.68 17.90 L619.95 18.92 L619.59 20.62 L619.59 21.64 L619.95 23.34 L620.68 24.36 L621.77 24.70 L622.50 24.70 L623.60 24.36 L624.33 23.34 L624.70 21.64 L624.70 20.62 L624.33 18.92 L623.60 17.90 L622.50 17.56 L621.77 17.56 M595.13 39.92 L595.86 39.58 L596.96 38.56 L596.96 45.70 M605.72 38.56 L602.07 38.56 L601.70 41.62 L602.07 41.28 L603.16 40.94 L604.25 40.94 L605.35 41.28 L606.08 41.96 L606.45 42.98 L606.45 43.66 L606.08 44.68 L605.35 45.36 L604.25 45.70 L603.16 45.70 L602.07 45.36 L601.70 45.02 L601.34 44.34 M610.83 38.56 L609.73 38.90 L609.00 39.92 L608.64 41.62 L608.64 42.64 L609.00 44.34 L609.73 45.36 L610.83 45.70 L611.56 45.70 L612.65 45.36 L613.38 44.34 L613.75 42.64 L613.75 41.62 L613.38 39.92 L612.65 38.90 L611.56 38.56 L610.83 38.56 M616.67 45.02 L616.30 45.36 L616.67 45.70 L617.03 45.36 L616.67 45.02 M621.77 38.56 L620.68 38.90 L619.95 39.92 L619.59 41.62 L619.59 42.64 L619.95 44.34 L620.68 45.36 L621.77 45.70 L622.50 45.70 L623.60 45.36 L624.33 44.34 L624.70 42.64 L624.70 41.62 L624.33 39.92 L623.60 38.90 L622.50 38.56 L621.77 38.56 M595.13 60.92 L595.86 60.58 L596.96 59.56 L596.96 66.70 M603.52 59.56 L602.43 59.90 L601.70 60.92 L601.34 62.62 L601.34 63.64 L601.70 65.34 L602.43 66.36 L603.52 66.70 L604.25 66.70 L605.35 66.36 L606.08 65.34 L606.45 63.64 L606.45 62.62 L606.08 60.92 L605.35 59.90 L604.25 59.56 L603.52 59.56 M610.83 59.56 L609.73 59.90 L609.00 60.92 L608.64 62.62 L608.64 63.64 L609.00 65.34 L609.73 66.36 L610.83 66.70 L611.56 66.70 L612.65 66.36 L613.38 65.34 L613.75 63.64 L613.75 62.62 L613.38 60.92 L612.65 59.90 L611.56 59.56 L610.83 59.56 M616.67 66.02 L616.30 66.36 L616.67 66.70 L617.03 66.36 L616.67 66.02 M621.77 59.56 L620.68 59.90 L619.95 60.92 L619.59 62.62 L619.59 63.64 L619.95 65.34 L620.68 66.36 L621.77 66.70 L622.50 66.70 L623.60 66.36 L624.33 65.34 L624.70 63.64 L624.70 62.62 L624.33 60.92 L623.60 59.90 L622.50 59.56 L621.77 59.56 M604.25 80.56 L600.61 80.56 L600.24 83.62 L600.61 83.28 L601.70 82.94 L602.79 82.94 L603.89 83.28 L604.62 83.96 L604.99 84.98 L604.99 85.66 L604.62 86.68 L603.89 87.36 L602.79 87.70 L601.70 87.70 L600.61 87.36 L600.24 87.02 L599.88 86.34 M609.37 80.56 L608.27 80.90 L607.54 81.92 L607.18 83.62 L607.18 84.64 L607.54 86.34 L608.27 87.36 L609.37 87.70 L610.10 87.70 L611.19 87.36 L611.92 86.34 L612.29 84.64 L612.29 83.62 L611.92 81.92 L611.19 80.90 L610.10 80.56 L609.37 80.56 M615.21 87.02 L614.84 87.36 L615.21 87.70 L615.57 87.36 L615.21 87.02 M620.31 80.56 L619.22 80.90 L618.49 81.92 L618.12 83.62 L618.12 84.64 L618.49 86.34 L619.22 87.36 L620.31 87.70 L621.04 87.70 L622.14 87.36 L622.87 86.34 L623.24 84.64 L623.24 83.62 L622.87 81.92 L622.14 80.90 L621.04 80.56 L620.31 80.56 M607.90 101.56 L606.81 101.90 L606.08 102.92 L605.72 104.62 L605.72 105.64 L606.08 107.34 L606.81 108.36 L607.90 108.70 L608.63 108.70 L609.73 108.36 L610.46 107.34 L610.83 105.64 L610.83 104.62 L610.46 102.92 L609.73 101.90 L608.63 101.56 L607.90 101.56 M613.75 108.02 L613.38 108.36 L613.75 108.70 L614.11 108.36 L613.75 108.02 M618.86 101.56 L617.76 101.90 L617.03 102.92 L616.67 104.62 L616.67 105.64 L617.03 107.34 L617.76 108.36 L618.86 108.70 L619.59 108.70 L620.68 108.36 L621.41 107.34 L621.78 105.64 L621.78 104.62 L621.41 102.92 L620.68 101.90 L619.59 101.56 L618.86 101.56 M594.40 126.64 L600.97 126.64 M607.91 122.56 L604.26 122.56 L603.89 125.62 L604.26 125.28 L605.35 124.94 L606.45 124.94 L607.54 125.28 L608.27 125.96 L608.64 126.98 L608.64 127.66 L608.27 128.68 L607.54 129.36 L606.45 129.70 L605.35 129.70 L604.26 129.36 L603.89 129.02 L603.53 128.34 M613.01 122.56 L611.92 122.90 L611.19 123.92 L610.83 125.62 L610.83 126.64 L611.19 128.34 L611.92 129.36 L613.01 129.70 L613.75 129.70 L614.84 129.36 L615.57 128.34 L615.94 126.64 L615.94 125.62 L615.57 123.92 L614.84 122.90 L613.75 122.56 L613.01 122.56 M618.86 129.02 L618.49 129.36 L618.86 129.70 L619.22 129.36 L618.86 129.02 M623.97 122.56 L622.87 122.90 L622.14 123.92 L621.78 125.62 L621.78 126.64 L622.14 128.34 L622.87 129.36 L623.97 129.70 L624.70 129.70 L625.79 129.36 L626.52 128.34 L626.89 126.64 L626.89 125.62 L626.52 123.92 L625.79 122.90 L624.70 122.56 L623.97 122.56 M588.56 147.64 L595.13 147.64 M598.78 144.92 L599.51 144.58 L600.61 143.56 L600.61 150.70 M607.17 143.56 L606.08 143.90 L605.35 144.92 L604.99 146.62 L604.99 147.64 L605.35 149.34 L606.08 150.36 L607.17 150.70 L607.90 150.70 L609.00 150.36 L609.73 149.34 L610.10 147.64 L610.10 146.62 L609.73 144.92 L609.00 143.90 L607.90 143.56 L607.17 143.56 M614.48 143.56 L613.38 143.90 L612.65 144.92 L612.29 146.62 L612.29 147.64 L612.65 149.34 L613.38 150.36 L614.48 150.70 L615.21 150.70 L616.30 150.36 L617.03 149.34 L617.40 147.64 L617.40 146.62 L617.03 144.92 L616.30 143.90 L615.21 143.56 L614.48 143.56 M620.32 150.02 L619.95 150.36 L620.32 150.70 L620.68 150.36 L620.32 150.02 M625.42 143.56 L624.33 143.90 L623.60 144.92 L623.24 146.62 L623.24 147.64 L623.60 149.34 L624.33 150.36 L625.42 150.70 L626.15 150.70 L627.25 150.36 L627.98 149.34 L628.35 147.64 L628.35 146.62 L627.98 144.92 L627.25 143.90 L626.15 143.56 L625.42 143.56 M588.56 168.64 L595.13 168.64 M598.78 165.92 L599.51 165.58 L600.61 164.56 L600.61 171.70 M609.37 164.56 L605.72 164.56 L605.35 167.62 L605.72 167.28 L606.81 166.94 L607.90 166.94 L609.00 167.28 L609.73 167.96 L610.10 168.98 L610.10 169.66 L609.73 170.68 L609.00 171.36 L607.90 171.70 L606.81 171.70 L605.72 171.36 L605.35 171.02 L604.99 170.34 M614.48 164.56 L613.38 164.90 L612.65 165.92 L612.29 167.62 L612.29 168.64 L612.65 170.34 L613.38 171.36 L614.48 171.70 L615.21 171.70 L616.30 171.36 L617.03 170.34 L617.40 168.64 L617.40 167.62 L617.03 165.92 L616.30 164.90 L615.21 164.56 L614.48 164.56 M620.32 171.02 L619.95 171.36 L620.32 171.70 L620.68 171.36 L620.32 171.02 M625.42 164.56 L624.33 164.90 L623.60 165.92 L623.24 167.62 L623.24 168.64 L623.60 170.34 L624.33 171.36 L625.42 171.70 L626.15 171.70 L627.25 171.36 L627.98 170.34 L628.35 168.64 L628.35 167.62 L627.98 165.92 L627.25 164.90 L626.15 164.56 L625.42 164.56 M588.56 189.64 L595.13 189.64 M598.05 187.26 L598.05 186.92 L598.42 186.24 L598.78 185.90 L599.51 185.56 L600.97 185.56 L601.70 185.90 L602.07 186.24 L602.43 186.92 L602.43 187.60 L602.07 188.28 L601.34 189.30 L597.69 192.70 L602.80 192.70 M607.17 185.56 L606.08 185.90 L605.35 186.92 L604.99 188.62 L604.99 189.64 L605.35 191.34 L606.08 192.36 L607.17 192.70 L607.90 192.70 L609.00 192.36 L609.73 191.34 L610.10 189.64 L610.10 188.62 L609.73 186.92 L609.00 185.90 L607.90 185.56 L607.17 185.56 M614.48 185.56 L613.38 185.90 L612.65 186.92 L612.29 188.62 L612.29 189.64 L612.65 191.34 L613.38 192.36 L614.48 192.70 L615.21 192.70 L616.30 192.36 L617.03 191.34 L617.40 189.64 L617.40 188.62 L617.03 186.92 L616.30 185.90 L615.21 185.56 L614.48 185.56 M620.32 192.02 L619.95 192.36 L620.32 192.70 L620.68 192.36 L620.32 192.02 M625.42 185.56 L624.33 185.90 L623.60 186.92 L623.24 188.62 L623.24 189.64 L623.60 191.34 L624.33 192.36 L625.42 192.70 L626.15 192.70 L627.25 192.36 L627.98 191.34 L628.35 189.64 L628.35 188.62 L627.98 186.92 L627.25 185.90 L626.15 185.56 L625.42 185.56 M34.91 443.34 L41.48 443.34 M48.78 441.64 L48.42 442.66 L47.69 443.34 L46.59 443.68 L46.23 443.68 L45.13 443.34 L44.41 442.66 L44.04 441.64 L44.04 441.30 L44.41 440.28 L45.13 439.60 L46.23 439.26 L46.59 439.26 L47.69 439.60 L48.42 440.28 L48.78 441.64 L48.78 443.34 L48.42 445.04 L47.69 446.06 L46.59 446.40 L45.87 446.40 L44.77 446.06 L44.41 445.38 M53.53 439.26 L52.43 439.60 L51.70 440.62 L51.34 442.32 L51.34 443.34 L51.70 445.04 L52.43 446.06 L53.53 446.40 L54.26 446.40 L55.35 446.06 L56.08 445.04 L56.45 443.34 L56.45 442.32 L56.08 440.62 L55.35 439.60 L54.26 439.26 L53.53 439.26 M89.88 439.26 L88.79 439.60 L88.06 440.62 L87.69 442.32 L87.69 443.34 L88.06 445.04 L88.79 446.06 L89.88 446.40 L90.61 446.40 L91.71 446.06 L92.44 445.04 L92.80 443.34 L92.80 442.32 L92.44 440.62 L91.71 439.60 L90.61 439.26 L89.88 439.26 M133.54 441.64 L133.18 442.66 L132.44 443.34 L131.35 443.68 L130.99 443.68 L129.89 443.34 L129.16 442.66 L128.80 441.64 L128.80 441.30 L129.16 440.28 L129.89 439.60 L130.99 439.26 L131.35 439.26 L132.44 439.60 L133.18 440.28 L133.54 441.64 L133.54 443.34 L133.18 445.04 L132.44 446.06 L131.35 446.40 L130.62 446.40 L129.53 446.06 L129.16 445.38 M138.28 439.26 L137.19 439.60 L136.46 440.62 L136.09 442.32 L136.09 443.34 L136.46 445.04 L137.19 446.06 L138.28 446.40 L139.01 446.40 L140.11 446.06 L140.84 445.04 L141.21 443.34 L141.21 442.32 L140.84 440.62 L140.11 439.60 L139.01 439.26 L138.28 439.26 M179.38 439.26 L178.29 439.60 L177.56 440.62 L177.19 442.32 L177.19 443.34 L177.56 445.04 L178.29 446.06 L179.38 446.40 L180.11 446.40 L181.21 446.06 L181.94 445.04 L182.31 443.34 L182.31 442.32 L181.94 440.62 L181.21 439.60 L180.11 439.26 L179.38 439.26 M213.92 443.34 L220.49 443.34 M227.78 441.64 L227.42 442.66 L226.69 443.34 L225.59 443.68 L225.23 443.68 L224.13 443.34 L223.41 442.66 L223.04 441.64 L223.04 441.30 L223.41 440.28 L224.13 439.60 L225.23 439.26 L225.59 439.26 L226.69 439.60 L227.42 440.28 L227.78 441.64 L227.78 443.34 L227.42 445.04 L226.69 446.06 L225.59 446.40 L224.86 446.40 L223.77 446.06 L223.41 445.38 M232.53 439.26 L231.44 439.60 L230.71 440.62 L230.34 442.32 L230.34 443.34 L230.71 445.04 L231.44 446.06 L232.53 446.40 L233.26 446.40 L234.36 446.06 L235.09 445.04 L235.45 443.34 L235.45 442.32 L235.09 440.62 L234.36 439.60 L233.26 439.26 L232.53 439.26 M33.24 425.48 L32.88 424.80 L31.78 424.46 L31.05 424.46 L29.95 424.80 L29.22 425.82 L28.86 427.52 L28.86 429.22 L29.22 430.58 L29.95 431.26 L31.05 431.60 L31.41 431.60 L32.51 431.26 L33.24 430.58 L33.60 429.56 L33.60 429.22 L33.24 428.20 L32.51 427.52 L31.41 427.18 L31.05 427.18 L29.95 427.52 L29.22 428.20 L28.86 429.22 M37.98 424.46 L36.89 424.80 L36.16 425.82 L35.80 427.52 L35.80 428.54 L36.16 430.24 L36.89 431.26 L37.98 431.60 L38.72 431.60 L39.81 431.26 L40.54 430.24 L40.91 428.54 L40.91 427.52 L40.54 425.82 L39.81 424.80 L38.72 424.46 L37.98 424.46 M33.60 394.56 L29.95 401.70 M28.49 394.56 L33.60 394.56 M37.98 394.56 L36.89 394.90 L36.16 395.92 L35.80 397.62 L35.80 398.64 L36.16 400.34 L36.89 401.36 L37.98 401.70 L38.72 401.70 L39.81 401.36 L40.54 400.34 L40.91 398.64 L40.91 397.62 L40.54 395.92 L39.81 394.90 L38.72 394.56 L37.98 394.56 M30.32 360.96 L29.22 361.30 L28.86 361.98 L28.86 362.66 L29.22 363.34 L29.95 363.68 L31.41 364.02 L32.51 364.36 L33.24 365.04 L33.60 365.72 L33.60 366.74 L33.24 367.42 L32.88 367.76 L31.78 368.10 L30.32 368.10 L29.22 367.76 L28.86 367.42 L28.49 366.74 L28.49 365.72 L28.86 365.04 L29.59 364.36 L30.68 364.02 L32.14 363.68 L32.88 363.34 L33.24 362.66 L33.24 361.98 L32.88 361.30 L31.78 360.96 L30.32 360.96 M37.98 360.96 L36.89 361.30 L36.16 362.32 L35.80 364.02 L35.80 365.04 L36.16 366.74 L36.89 367.76 L37.98 368.10 L38.72 368.10 L39.81 367.76 L40.54 366.74 L40.91 365.04 L40.91 364.02 L40.54 362.32 L39.81 361.30 L38.72 360.96 L37.98 360.96 M33.24 329.74 L32.88 330.76 L32.14 331.44 L31.05 331.78 L30.68 331.78 L29.59 331.44 L28.86 330.76 L28.49 329.74 L28.49 329.40 L28.86 328.38 L29.59 327.70 L30.68 327.36 L31.05 327.36 L32.14 327.70 L32.88 328.38 L33.24 329.74 L33.24 331.44 L32.88 333.14 L32.14 334.16 L31.05 334.50 L30.32 334.50 L29.22 334.16 L28.86 333.48 M37.98 327.36 L36.89 327.70 L36.16 328.72 L35.80 330.42 L35.80 331.44 L36.16 333.14 L36.89 334.16 L37.98 334.50 L38.72 334.50 L39.81 334.16 L40.54 333.14 L40.91 331.44 L40.91 330.42 L40.54 328.72 L39.81 327.70 L38.72 327.36 L37.98 327.36 M22.29 295.12 L23.02 294.78 L24.12 293.76 L24.12 300.90 M30.69 293.76 L29.59 294.10 L28.86 295.12 L28.50 296.82 L28.50 297.84 L28.86 299.54 L29.59 300.56 L30.69 300.90 L31.42 300.90 L32.51 300.56 L33.24 299.54 L33.61 297.84 L33.61 296.82 L33.24 295.12 L32.51 294.10 L31.42 293.76 L30.69 293.76 M37.98 293.76 L36.89 294.10 L36.16 295.12 L35.80 296.82 L35.80 297.84 L36.16 299.54 L36.89 300.56 L37.98 300.90 L38.72 300.90 L39.81 300.56 L40.54 299.54 L40.91 297.84 L40.91 296.82 L40.54 295.12 L39.81 294.10 L38.72 293.76 L37.98 293.76 M22.29 264.92 L23.02 264.58 L24.12 263.56 L24.12 270.70 M29.59 264.92 L30.32 264.58 L31.42 263.56 L31.42 270.70 M37.98 263.56 L36.89 263.90 L36.16 264.92 L35.80 266.62 L35.80 267.64 L36.16 269.34 L36.89 270.36 L37.98 270.70 L38.72 270.70 L39.81 270.36 L40.54 269.34 L40.91 267.64 L40.91 266.62 L40.54 264.92 L39.81 263.90 L38.72 263.56 L37.98 263.56 M109.45 452.73 L109.45 460.40 M109.45 460.40 L113.83 460.40 M119.67 455.29 L119.67 460.40 M119.67 456.38 L118.94 455.65 L118.21 455.29 L117.12 455.29 L116.39 455.65 L115.66 456.38 L115.29 457.48 L115.29 458.21 L115.66 459.30 L116.39 460.03 L117.12 460.40 L118.21 460.40 L118.94 460.03 L119.67 459.30 M122.95 452.73 L122.95 458.94 L123.32 460.03 L124.05 460.40 L124.78 460.40 M121.86 455.29 L124.41 455.29 M135.37 451.27 L134.63 452.00 L133.91 453.10 L133.18 454.56 L132.81 456.38 L132.81 457.84 L133.18 459.67 L133.91 461.13 L134.63 462.22 L135.37 462.95 M141.94 452.73 L141.94 460.40 M141.94 456.38 L141.20 455.65 L140.47 455.29 L139.38 455.29 L138.65 455.65 L137.92 456.38 L137.56 457.48 L137.56 458.21 L137.92 459.30 L138.65 460.03 L139.38 460.40 L140.47 460.40 L141.20 460.03 L141.94 459.30 M144.49 457.48 L148.87 457.48 L148.87 456.75 L148.50 456.02 L148.14 455.65 L147.41 455.29 L146.31 455.29 L145.59 455.65 L144.85 456.38 L144.49 457.48 L144.49 458.21 L144.85 459.30 L145.59 460.03 L146.31 460.40 L147.41 460.40 L148.14 460.03 L148.87 459.30 M155.44 455.29 L155.44 461.13 L155.07 462.22 L154.71 462.59 L153.98 462.95 L152.88 462.95 L152.16 462.59 M155.44 456.38 L154.71 455.65 L153.98 455.29 L152.88 455.29 L152.16 455.65 L151.43 456.38 L151.06 457.48 L151.06 458.21 L151.43 459.30 L152.16 460.03 L152.88 460.40 L153.98 460.40 L154.71 460.03 L155.44 459.30 M158.00 451.27 L158.72 452.00 L159.45 453.10 L160.19 454.56 L160.55 456.38 L160.55 457.84 L160.19 459.67 L159.45 461.13 L158.72 462.22 L158.00 462.95 M2.93 381.63 L10.60 384.55 M2.93 381.63 L10.60 378.71 M8.04 383.45 L8.04 379.80 M2.93 376.88 L10.60 376.88 M2.93 373.60 L9.14 373.60 L10.23 373.23 L10.60 372.50 L10.60 371.77 M5.49 374.69 L5.49 372.14 M2.93 369.95 L3.30 369.58 L2.93 369.22 L2.57 369.58 L2.93 369.95 M5.49 369.58 L10.60 369.58 M2.93 366.30 L9.14 366.30 L10.23 365.93 L10.60 365.20 L10.60 364.47 M5.49 367.39 L5.49 364.84 M5.49 362.28 L9.14 362.28 L10.23 361.92 L10.60 361.19 L10.60 360.09 L10.23 359.36 L9.14 358.27 M5.49 358.27 L10.60 358.27 M2.93 351.33 L10.60 351.33 M6.58 351.33 L5.85 352.06 L5.49 352.79 L5.49 353.89 L5.85 354.62 L6.58 355.35 L7.68 355.71 L8.41 355.71 L9.50 355.35 L10.23 354.62 L10.60 353.89 L10.60 352.79 L10.23 352.06 L9.50 351.33 M7.68 348.78 L7.68 344.40 L6.95 344.40 L6.22 344.76 L5.85 345.13 L5.49 345.86 L5.49 346.95 L5.85 347.68 L6.58 348.41 L7.68 348.78 L8.41 348.78 L9.50 348.41 L10.23 347.68 L10.60 346.95 L10.60 345.86 L10.23 345.13 L9.50 344.40 M1.47 333.45 L2.21 334.18 L3.30 334.91 L4.76 335.64 L6.58 336.00 L8.04 336.00 L9.87 335.64 L11.33 334.91 L12.42 334.18 L13.15 333.45 M2.93 330.89 L10.60 330.89 M5.49 327.24 L9.14 330.89 M7.68 329.43 L10.60 326.88 M5.49 324.69 L10.60 324.69 M6.95 324.69 L5.85 323.59 L5.49 322.86 L5.49 321.77 L5.85 321.04 L6.95 320.67 L10.60 320.67 M6.95 320.67 L5.85 319.58 L5.49 318.85 L5.49 317.75 L5.85 317.02 L6.95 316.66 L10.60 316.66 M1.47 314.10 L2.21 313.37 L3.30 312.64 L4.76 311.91 L6.58 311.55 L8.04 311.55 L9.87 311.91 L11.33 312.64 L12.42 313.37 L13.15 314.10 M37.55 247.61 L37.55 257.00 M37.55 247.61 L41.13 257.00 M44.71 247.61 L41.13 257.00 M44.71 247.61 L44.71 257.00 M47.83 253.42 L53.20 253.42 L53.20 252.53 L52.75 251.64 L52.30 251.19 L51.41 250.74 L50.07 250.74 L49.18 251.19 L48.28 252.08 L47.83 253.42 L47.83 254.32 L48.28 255.66 L49.18 256.55 L50.07 257.00 L51.41 257.00 L52.30 256.55 L53.20 255.66 M56.33 250.74 L56.33 257.00 M56.33 253.42 L56.77 252.08 L57.67 251.19 L58.56 250.74 L59.90 250.74 M61.69 247.61 L62.14 248.06 L62.59 247.61 L62.14 247.17 L61.69 247.61 M62.14 250.74 L62.14 257.00 M70.63 247.61 L70.63 257.00 M70.63 252.08 L69.74 251.19 L68.84 250.74 L67.50 250.74 L66.61 251.19 L65.71 252.08 L65.27 253.42 L65.27 254.32 L65.71 255.66 L66.61 256.55 L67.50 257.00 L68.84 257.00 L69.74 256.55 L70.63 255.66 M73.76 247.61 L74.21 248.06 L74.66 247.61 L74.21 247.17 L73.76 247.61 M74.21 250.74 L74.21 257.00 M79.57 250.74 L78.68 251.19 L77.78 252.08 L77.34 253.42 L77.34 254.32 L77.78 255.66 L78.68 256.55 L79.57 257.00 L80.91 257.00 L81.81 256.55 L82.70 255.66 L83.15 254.32 L83.15 253.42 L82.70 252.08 L81.81 251.19 L80.91 250.74 L79.57 250.74 M86.28 250.74 L86.28 257.00 M86.28 252.53 L87.62 251.19 L88.51 250.74 L89.85 250.74 L90.75 251.19 L91.19 252.53 L91.19 257.00 M99.69 250.74 L99.69 257.00 M99.69 252.08 L98.79 251.19 L97.90 250.74 L96.56 250.74 L95.66 251.19 L94.77 252.08 L94.32 253.42 L94.32 254.32 L94.77 255.66 L95.66 256.55 L96.56 257.00 L97.90 257.00 L98.79 256.55 L99.69 255.66 M103.26 247.61 L103.26 257.00 M113.10 247.61 L115.33 257.00 M117.57 247.61 L115.33 257.00 M117.57 247.61 L119.80 257.00 M122.04 247.61 L119.80 257.00 M124.27 247.61 L124.72 248.06 L125.17 247.61 L124.72 247.17 L124.27 247.61 M124.72 250.74 L124.72 257.00 M128.30 250.74 L128.30 257.00 M128.30 252.53 L129.64 251.19 L130.53 250.74 L131.87 250.74 L132.77 251.19 L133.21 252.53 L133.21 257.00 M141.71 247.61 L141.71 257.00 M141.71 252.08 L140.81 251.19 L139.92 250.74 L138.58 250.74 L137.68 251.19 L136.79 252.08 L136.34 253.42 L136.34 254.32 L136.79 255.66 L137.68 256.55 L138.58 257.00 L139.92 257.00 L140.81 256.55 L141.71 255.66 M149.75 252.08 L149.30 251.19 L147.96 250.74 L146.62 250.74 L145.28 251.19 L144.83 252.08 L145.28 252.98 L146.18 253.42 L148.41 253.87 L149.30 254.32 L149.75 255.21 L149.75 255.66 L149.30 256.55 L147.96 257.00 L146.62 257.00 L145.28 256.55 L144.83 255.66 M163.16 245.82 L162.27 246.72 L161.37 248.06 L160.48 249.85 L160.03 252.08 L160.03 253.87 L160.48 256.11 L161.37 257.89 L162.27 259.24 L163.16 260.13 M171.21 252.08 L170.31 251.19 L169.42 250.74 L168.08 250.74 L167.18 251.19 L166.29 252.08 L165.84 253.42 L165.84 254.32 L166.29 255.66 L167.18 256.55 L168.08 257.00 L169.42 257.00 L170.31 256.55 L171.21 255.66 M176.12 250.74 L175.23 251.19 L174.34 252.08 L173.89 253.42 L173.89 254.32 L174.34 255.66 L175.23 256.55 L176.12 257.00 L177.47 257.00 L178.36 256.55 L179.25 255.66 L179.70 254.32 L179.70 253.42 L179.25 252.08 L178.36 251.19 L177.47 250.74 L176.12 250.74 M182.83 247.61 L182.83 257.00 M191.32 247.61 L191.32 257.00 M191.32 252.08 L190.43 251.19 L189.53 250.74 L188.19 250.74 L187.30 251.19 L186.41 252.08 L185.96 253.42 L185.96 254.32 L186.41 255.66 L187.30 256.55 L188.19 257.00 L189.53 257.00 L190.43 256.55 L191.32 255.66 M206.52 252.08 L206.07 251.19 L204.73 250.74 L203.39 250.74 L202.05 251.19 L201.60 252.08 L202.05 252.98 L202.94 253.42 L205.18 253.87 L206.07 254.32 L206.52 255.21 L206.52 255.66 L206.07 256.55 L204.73 257.00 L203.39 257.00 L202.05 256.55 L201.60 255.66 M209.20 247.61 L209.65 248.06 L210.10 247.61 L209.65 247.17 L209.20 247.61 M209.65 250.74 L209.65 257.00 M218.14 247.61 L218.14 257.00 M218.14 252.08 L217.25 251.19 L216.35 250.74 L215.01 250.74 L214.12 251.19 L213.22 252.08 L212.78 253.42 L212.78 254.32 L213.22 255.66 L214.12 256.55 L215.01 257.00 L216.35 257.00 L217.25 256.55 L218.14 255.66 M221.27 253.42 L226.63 253.42 L226.63 252.53 L226.19 251.64 L225.74 251.19 L224.85 250.74 L223.51 250.74 L222.61 251.19 L221.72 252.08 L221.27 253.42 L221.27 254.32 L221.72 255.66 L222.61 256.55 L223.51 257.00 L224.85 257.00 L225.74 256.55 L226.63 255.66 M229.32 245.82 L230.21 246.72 L231.11 248.06 L232.00 249.85 L232.45 252.08 L232.45 253.87 L232.00 256.11 L231.11 257.89 L230.21 259.24 L229.32 260.13 M280.60 259.26 L280.60 258.92 L280.96 258.24 L281.33 257.90 L282.06 257.56 L283.52 257.56 L284.25 257.90 L284.62 258.24 L284.98 258.92 L284.98 259.60 L284.62 260.28 L283.88 261.30 L280.24 264.70 L285.34 264.70 M289.73 257.56 L288.63 257.90 L287.90 258.92 L287.54 260.62 L287.54 261.64 L287.90 263.34 L288.63 264.36 L289.73 264.70 L290.45 264.70 L291.55 264.36 L292.28 263.34 L292.64 261.64 L292.64 260.62 L292.28 258.92 L291.55 257.90 L290.45 257.56 L289.73 257.56 M297.03 257.56 L295.93 257.90 L295.20 258.92 L294.84 260.62 L294.84 261.64 L295.20 263.34 L295.93 264.36 L297.03 264.70 L297.75 264.70 L298.85 264.36 L299.58 263.34 L299.94 261.64 L299.94 260.62 L299.58 258.92 L298.85 257.90 L297.75 257.56 L297.03 257.56 M302.87 264.02 L302.50 264.36 L302.87 264.70 L303.23 264.36 L302.87 264.02 M307.98 257.56 L306.88 257.90 L306.15 258.92 L305.79 260.62 L305.79 261.64 L306.15 263.34 L306.88 264.36 L307.98 264.70 L308.70 264.70 L309.80 264.36 L310.53 263.34 L310.89 261.64 L310.89 260.62 L310.53 258.92 L309.80 257.90 L308.70 257.56 L307.98 257.56 M281.33 279.92 L282.06 279.58 L283.15 278.56 L283.15 285.70 M291.92 278.56 L288.26 278.56 L287.90 281.62 L288.26 281.28 L289.36 280.94 L290.45 280.94 L291.55 281.28 L292.28 281.96 L292.64 282.98 L292.64 283.66 L292.28 284.68 L291.55 285.36 L290.45 285.70 L289.36 285.70 L288.26 285.36 L287.90 285.02 L287.54 284.34 M297.03 278.56 L295.93 278.90 L295.20 279.92 L294.84 281.62 L294.84 282.64 L295.20 284.34 L295.93 285.36 L297.03 285.70 L297.75 285.70 L298.85 285.36 L299.58 284.34 L299.94 282.64 L299.94 281.62 L299.58 279.92 L298.85 278.90 L297.75 278.56 L297.03 278.56 M302.87 285.02 L302.50 285.36 L302.87 285.70 L303.23 285.36 L302.87 285.02 M307.98 278.56 L306.88 278.90 L306.15 279.92 L305.79 281.62 L305.79 282.64 L306.15 284.34 L306.88 285.36 L307.98 285.70 L308.70 285.70 L309.80 285.36 L310.53 284.34 L310.89 282.64 L310.89 281.62 L310.53 279.92 L309.80 278.90 L308.70 278.56 L307.98 278.56 M281.33 300.92 L282.06 300.58 L283.15 299.56 L283.15 306.70 M289.73 299.56 L288.63 299.90 L287.90 300.92 L287.54 302.62 L287.54 303.64 L287.90 305.34 L288.63 306.36 L289.73 306.70 L290.45 306.70 L291.55 306.36 L292.28 305.34 L292.64 303.64 L292.64 302.62 L292.28 300.92 L291.55 299.90 L290.45 299.56 L289.73 299.56 M297.03 299.56 L295.93 299.90 L295.20 300.92 L294.84 302.62 L294.84 303.64 L295.20 305.34 L295.93 306.36 L297.03 306.70 L297.75 306.70 L298.85 306.36 L299.58 305.34 L299.94 303.64 L299.94 302.62 L299.58 300.92 L298.85 299.90 L297.75 299.56 L297.03 299.56 M302.87 306.02 L302.50 306.36 L302.87 306.70 L303.23 306.36 L302.87 306.02 M307.98 299.56 L306.88 299.90 L306.15 300.92 L305.79 302.62 L305.79 303.64 L306.15 305.34 L306.88 306.36 L307.98 306.70 L308.70 306.70 L309.80 306.36 L310.53 305.34 L310.89 303.64 L310.89 302.62 L310.53 300.92 L309.80 299.90 L308.70 299.56 L307.98 299.56 M290.46 320.56 L286.81 320.56 L286.44 323.62 L286.81 323.28 L287.90 322.94 L289.00 322.94 L290.09 323.28 L290.82 323.96 L291.19 324.98 L291.19 325.66 L290.82 326.68 L290.09 327.36 L289.00 327.70 L287.90 327.70 L286.81 327.36 L286.44 327.02 L286.08 326.34 M295.57 320.56 L294.47 320.90 L293.74 321.92 L293.38 323.62 L293.38 324.64 L293.74 326.34 L294.47 327.36 L295.57 327.70 L296.30 327.70 L297.39 327.36 L298.12 326.34 L298.49 324.64 L298.49 323.62 L298.12 321.92 L297.39 320.90 L296.30 320.56 L295.57 320.56 M301.41 327.02 L301.04 327.36 L301.41 327.70 L301.77 327.36 L301.41 327.02 M306.52 320.56 L305.42 320.90 L304.69 321.92 L304.33 323.62 L304.33 324.64 L304.69 326.34 L305.42 327.36 L306.52 327.70 L307.25 327.70 L308.34 327.36 L309.07 326.34 L309.44 324.64 L309.44 323.62 L309.07 321.92 L308.34 320.90 L307.25 320.56 L306.52 320.56 M294.11 341.56 L293.01 341.90 L292.28 342.92 L291.92 344.62 L291.92 345.64 L292.28 347.34 L293.01 348.36 L294.11 348.70 L294.83 348.70 L295.93 348.36 L296.66 347.34 L297.02 345.64 L297.02 344.62 L296.66 342.92 L295.93 341.90 L294.83 341.56 L294.11 341.56 M299.94 348.02 L299.58 348.36 L299.94 348.70 L300.31 348.36 L299.94 348.02 M305.06 341.56 L303.96 341.90 L303.23 342.92 L302.87 344.62 L302.87 345.64 L303.23 347.34 L303.96 348.36 L305.06 348.70 L305.78 348.70 L306.88 348.36 L307.61 347.34 L307.97 345.64 L307.97 344.62 L307.61 342.92 L306.88 341.90 L305.78 341.56 L305.06 341.56 M280.60 366.64 L287.17 366.64 M294.11 362.56 L290.45 362.56 L290.09 365.62 L290.45 365.28 L291.55 364.94 L292.64 364.94 L293.74 365.28 L294.47 365.96 L294.83 366.98 L294.83 367.66 L294.47 368.68 L293.74 369.36 L292.64 369.70 L291.55 369.70 L290.45 369.36 L290.09 369.02 L289.73 368.34 M299.22 362.56 L298.12 362.90 L297.39 363.92 L297.03 365.62 L297.03 366.64 L297.39 368.34 L298.12 369.36 L299.22 369.70 L299.94 369.70 L301.04 369.36 L301.77 368.34 L302.13 366.64 L302.13 365.62 L301.77 363.92 L301.04 362.90 L299.94 362.56 L299.22 362.56 M305.06 369.02 L304.69 369.36 L305.06 369.70 L305.42 369.36 L305.06 369.02 M310.17 362.56 L309.07 362.90 L308.34 363.92 L307.98 365.62 L307.98 366.64 L308.34 368.34 L309.07 369.36 L310.17 369.70 L310.89 369.70 L311.99 369.36 L312.72 368.34 L313.08 366.64 L313.08 365.62 L312.72 363.92 L311.99 362.90 L310.89 362.56 L310.17 362.56 M274.76 387.64 L281.33 387.64 M284.98 384.92 L285.71 384.58 L286.81 383.56 L286.81 390.70 M293.38 383.56 L292.28 383.90 L291.55 384.92 L291.19 386.62 L291.19 387.64 L291.55 389.34 L292.28 390.36 L293.38 390.70 L294.11 390.70 L295.20 390.36 L295.93 389.34 L296.30 387.64 L296.30 386.62 L295.93 384.92 L295.20 383.90 L294.11 383.56 L293.38 383.56 M300.68 383.56 L299.58 383.90 L298.85 384.92 L298.49 386.62 L298.49 387.64 L298.85 389.34 L299.58 390.36 L300.68 390.70 L301.40 390.70 L302.50 390.36 L303.23 389.34 L303.59 387.64 L303.59 386.62 L303.23 384.92 L302.50 383.90 L301.40 383.56 L300.68 383.56 M306.51 390.02 L306.15 390.36 L306.51 390.70 L306.88 390.36 L306.51 390.02 M311.63 383.56 L310.53 383.90 L309.80 384.92 L309.44 386.62 L309.44 387.64 L309.80 389.34 L310.53 390.36 L311.63 390.70 L312.36 390.70 L313.45 390.36 L314.18 389.34 L314.55 387.64 L314.55 386.62 L314.18 384.92 L313.45 383.90 L312.36 383.56 L311.63 383.56 M274.76 408.64 L281.33 408.64 M284.98 405.92 L285.71 405.58 L286.81 404.56 L286.81 411.70 M295.57 404.56 L291.92 404.56 L291.55 407.62 L291.92 407.28 L293.01 406.94 L294.11 406.94 L295.20 407.28 L295.93 407.96 L296.30 408.98 L296.30 409.66 L295.93 410.68 L295.20 411.36 L294.11 411.70 L293.01 411.70 L291.92 411.36 L291.55 411.02 L291.19 410.34 M300.68 404.56 L299.58 404.90 L298.85 405.92 L298.49 407.62 L298.49 408.64 L298.85 410.34 L299.58 411.36 L300.68 411.70 L301.40 411.70 L302.50 411.36 L303.23 410.34 L303.59 408.64 L303.59 407.62 L303.23 405.92 L302.50 404.90 L301.40 404.56 L300.68 404.56 M306.51 411.02 L306.15 411.36 L306.51 411.70 L306.88 411.36 L306.51 411.02 M311.63 404.56 L310.53 404.90 L309.80 405.92 L309.44 407.62 L309.44 408.64 L309.80 410.34 L310.53 411.36 L311.63 411.70 L312.36 411.70 L313.45 411.36 L314.18 410.34 L314.55 408.64 L314.55 407.62 L314.18 405.92 L313.45 404.90 L312.36 404.56 L311.63 404.56 M274.76 429.64 L281.33 429.64 M284.25 427.26 L284.25 426.92 L284.62 426.24 L284.98 425.90 L285.71 425.56 L287.17 425.56 L287.90 425.90 L288.27 426.24 L288.63 426.92 L288.63 427.60 L288.27 428.28 L287.54 429.30 L283.89 432.70 L289.00 432.70 M293.38 425.56 L292.28 425.90 L291.55 426.92 L291.19 428.62 L291.19 429.64 L291.55 431.34 L292.28 432.36 L293.38 432.70 L294.11 432.70 L295.20 432.36 L295.93 431.34 L296.30 429.64 L296.30 428.62 L295.93 426.92 L295.20 425.90 L294.11 425.56 L293.38 425.56 M300.68 425.56 L299.58 425.90 L298.85 426.92 L298.49 428.62 L298.49 429.64 L298.85 431.34 L299.58 432.36 L300.68 432.70 L301.40 432.70 L302.50 432.36 L303.23 431.34 L303.59 429.64 L303.59 428.62 L303.23 426.92 L302.50 425.90 L301.40 425.56 L300.68 425.56 M306.51 432.02 L306.15 432.36 L306.51 432.70 L306.88 432.36 L306.51 432.02 M311.63 425.56 L310.53 425.90 L309.80 426.92 L309.44 428.62 L309.44 429.64 L309.80 431.34 L310.53 432.36 L311.63 432.70 L312.36 432.70 L313.45 432.36 L314.18 431.34 L314.55 429.64 L314.55 428.62 L314.18 426.92 L313.45 425.90 L312.36 425.56 L311.63 425.56 M354.91 443.34 L361.48 443.34 M368.78 441.64 L368.42 442.66 L367.69 443.34 L366.59 443.68 L366.23 443.68 L365.13 443.34 L364.40 442.66 L364.04 441.64 L364.04 441.30 L364.40 440.28 L365.13 439.60 L366.23 439.26 L366.59 439.26 L367.69 439.60 L368.42 440.28 L368.78 441.64 L368.78 443.34 L368.42 445.04 L367.69 446.06 L366.59 446.40 L365.87 446.40 L364.77 446.06 L364.40 445.38 M373.53 439.26 L372.44 439.60 L371.70 440.62 L371.34 442.32 L371.34 443.34 L371.70 445.04 L372.44 446.06 L373.53 446.40 L374.26 446.40 L375.36 446.06 L376.08 445.04 L376.45 443.34 L376.45 442.32 L376.08 440.62 L375.36 439.60 L374.26 439.26 L373.53 439.26 M409.89 439.26 L408.79 439.60 L408.06 440.62 L407.70 442.32 L407.70 443.34 L408.06 445.04 L408.79 446.06 L409.89 446.40 L410.62 446.40 L411.71 446.06 L412.44 445.04 L412.81 443.34 L412.81 442.32 L412.44 440.62 L411.71 439.60 L410.62 439.26 L409.89 439.26 M453.54 441.64 L453.18 442.66 L452.44 443.34 L451.35 443.68 L450.99 443.68 L449.89 443.34 L449.16 442.66 L448.80 441.64 L448.80 441.30 L449.16 440.28 L449.89 439.60 L450.99 439.26 L451.35 439.26 L452.44 439.60 L453.18 440.28 L453.54 441.64 L453.54 443.34 L453.18 445.04 L452.44 446.06 L451.35 446.40 L450.62 446.40 L449.52 446.06 L449.16 445.38 M458.29 439.26 L457.19 439.60 L456.46 440.62 L456.10 442.32 L456.10 443.34 L456.46 445.04 L457.19 446.06 L458.29 446.40 L459.01 446.40 L460.11 446.06 L460.84 445.04 L461.20 443.34 L461.20 442.32 L460.84 440.62 L460.11 439.60 L459.01 439.26 L458.29 439.26 M499.39 439.26 L498.29 439.60 L497.56 440.62 L497.20 442.32 L497.20 443.34 L497.56 445.04 L498.29 446.06 L499.39 446.40 L500.12 446.40 L501.21 446.06 L501.94 445.04 L502.31 443.34 L502.31 442.32 L501.94 440.62 L501.21 439.60 L500.12 439.26 L499.39 439.26 M533.92 443.34 L540.49 443.34 M547.79 441.64 L547.42 442.66 L546.69 443.34 L545.60 443.68 L545.23 443.68 L544.14 443.34 L543.41 442.66 L543.04 441.64 L543.04 441.30 L543.41 440.28 L544.14 439.60 L545.23 439.26 L545.60 439.26 L546.69 439.60 L547.42 440.28 L547.79 441.64 L547.79 443.34 L547.42 445.04 L546.69 446.06 L545.60 446.40 L544.87 446.40 L543.77 446.06 L543.41 445.38 M552.53 439.26 L551.44 439.60 L550.71 440.62 L550.34 442.32 L550.34 443.34 L550.71 445.04 L551.44 446.06 L552.53 446.40 L553.26 446.40 L554.36 446.06 L555.09 445.04 L555.45 443.34 L555.45 442.32 L555.09 440.62 L554.36 439.60 L553.26 439.26 L552.53 439.26 M353.24 425.48 L352.88 424.80 L351.78 424.46 L351.05 424.46 L349.95 424.80 L349.22 425.82 L348.86 427.52 L348.86 429.22 L349.22 430.58 L349.95 431.26 L351.05 431.60 L351.41 431.60 L352.51 431.26 L353.24 430.58 L353.60 429.56 L353.60 429.22 L353.24 428.20 L352.51 427.52 L351.41 427.18 L351.05 427.18 L349.95 427.52 L349.22 428.20 L348.86 429.22 M357.99 424.46 L356.89 424.80 L356.16 425.82 L355.80 427.52 L355.80 428.54 L356.16 430.24 L356.89 431.26 L357.99 431.60 L358.71 431.60 L359.81 431.26 L360.54 430.24 L360.90 428.54 L360.90 427.52 L360.54 425.82 L359.81 424.80 L358.71 424.46 L357.99 424.46 M353.60 394.56 L349.95 401.70 M348.50 394.56 L353.60 394.56 M357.99 394.56 L356.89 394.90 L356.16 395.92 L355.80 397.62 L355.80 398.64 L356.16 400.34 L356.89 401.36 L357.99 401.70 L358.71 401.70 L359.81 401.36 L360.54 400.34 L360.90 398.64 L360.90 397.62 L360.54 395.92 L359.81 394.90 L358.71 394.56 L357.99 394.56 M350.32 360.96 L349.22 361.30 L348.86 361.98 L348.86 362.66 L349.22 363.34 L349.95 363.68 L351.41 364.02 L352.51 364.36 L353.24 365.04 L353.60 365.72 L353.60 366.74 L353.24 367.42 L352.88 367.76 L351.78 368.10 L350.32 368.10 L349.22 367.76 L348.86 367.42 L348.50 366.74 L348.50 365.72 L348.86 365.04 L349.59 364.36 L350.69 364.02 L352.14 363.68 L352.88 363.34 L353.24 362.66 L353.24 361.98 L352.88 361.30 L351.78 360.96 L350.32 360.96 M357.99 360.96 L356.89 361.30 L356.16 362.32 L355.80 364.02 L355.80 365.04 L356.16 366.74 L356.89 367.76 L357.99 368.10 L358.71 368.10 L359.81 367.76 L360.54 366.74 L360.90 365.04 L360.90 364.02 L360.54 362.32 L359.81 361.30 L358.71 360.96 L357.99 360.96 M353.24 329.74 L352.88 330.76 L352.14 331.44 L351.05 331.78 L350.69 331.78 L349.59 331.44 L348.86 330.76 L348.50 329.74 L348.50 329.40 L348.86 328.38 L349.59 327.70 L350.69 327.36 L351.05 327.36 L352.14 327.70 L352.88 328.38 L353.24 329.74 L353.24 331.44 L352.88 333.14 L352.14 334.16 L351.05 334.50 L350.32 334.50 L349.22 334.16 L348.86 333.48 M357.99 327.36 L356.89 327.70 L356.16 328.72 L355.80 330.42 L355.80 331.44 L356.16 333.14 L356.89 334.16 L357.99 334.50 L358.71 334.50 L359.81 334.16 L360.54 333.14 L360.90 331.44 L360.90 330.42 L360.54 328.72 L359.81 327.70 L358.71 327.36 L357.99 327.36 M342.29 295.12 L343.02 294.78 L344.12 293.76 L344.12 300.90 M350.69 293.76 L349.59 294.10 L348.86 295.12 L348.50 296.82 L348.50 297.84 L348.86 299.54 L349.59 300.56 L350.69 300.90 L351.41 300.90 L352.51 300.56 L353.24 299.54 L353.60 297.84 L353.60 296.82 L353.24 295.12 L352.51 294.10 L351.41 293.76 L350.69 293.76 M357.99 293.76 L356.89 294.10 L356.16 295.12 L355.80 296.82 L355.80 297.84 L356.16 299.54 L356.89 300.56 L357.99 300.90 L358.71 300.90 L359.81 300.56 L360.54 299.54 L360.90 297.84 L360.90 296.82 L360.54 295.12 L359.81 294.10 L358.71 293.76 L357.99 293.76 M342.29 264.92 L343.02 264.58 L344.12 263.56 L344.12 270.70 M349.59 264.92 L350.32 264.58 L351.41 263.56 L351.41 270.70 M357.99 263.56 L356.89 263.90 L356.16 264.92 L355.80 266.62 L355.80 267.64 L356.16 269.34 L356.89 270.36 L357.99 270.70 L358.71 270.70 L359.81 270.36 L360.54 269.34 L360.90 267.64 L360.90 266.62 L360.54 264.92 L359.81 263.90 L358.71 263.56 L357.99 263.56 M429.45 452.73 L429.45 460.40 M429.45 460.40 L433.83 460.40 M439.67 455.29 L439.67 460.40 M439.67 456.38 L438.94 455.65 L438.21 455.29 L437.12 455.29 L436.38 455.65 L435.65 456.38 L435.29 457.48 L435.29 458.21 L435.65 459.30 L436.38 460.03 L437.12 460.40 L438.21 460.40 L438.94 460.03 L439.67 459.30 M442.95 452.73 L442.95 458.94 L443.32 460.03 L444.05 460.40 L444.78 460.40 M441.86 455.29 L444.42 455.29 M455.37 451.27 L454.63 452.00 L453.90 453.10 L453.18 454.56 L452.81 456.38 L452.81 457.84 L453.18 459.67 L453.90 461.13 L454.63 462.22 L455.37 462.95 M461.94 452.73 L461.94 460.40 M461.94 456.38 L461.20 455.65 L460.48 455.29 L459.38 455.29 L458.65 455.65 L457.92 456.38 L457.56 457.48 L457.56 458.21 L457.92 459.30 L458.65 460.03 L459.38 460.40 L460.48 460.40 L461.20 460.03 L461.94 459.30 M464.49 457.48 L468.87 457.48 L468.87 456.75 L468.50 456.02 L468.14 455.65 L467.41 455.29 L466.31 455.29 L465.58 455.65 L464.86 456.38 L464.49 457.48 L464.49 458.21 L464.86 459.30 L465.58 460.03 L466.31 460.40 L467.41 460.40 L468.14 460.03 L468.87 459.30 M475.44 455.29 L475.44 461.13 L475.07 462.22 L474.71 462.59 L473.98 462.95 L472.88 462.95 L472.15 462.59 M475.44 456.38 L474.71 455.65 L473.98 455.29 L472.88 455.29 L472.15 455.65 L471.43 456.38 L471.06 457.48 L471.06 458.21 L471.43 459.30 L472.15 460.03 L472.88 460.40 L473.98 460.40 L474.71 460.03 L475.44 459.30 M478.00 451.27 L478.73 452.00 L479.45 453.10 L480.19 454.56 L480.55 456.38 L480.55 457.84 L480.19 459.67 L479.45 461.13 L478.73 462.22 L478.00 462.95 M322.94 381.63 L330.60 384.55 M322.94 381.63 L330.60 378.71 M328.05 383.45 L328.05 379.80 M322.94 376.88 L330.60 376.88 M322.94 373.60 L329.14 373.60 L330.24 373.23 L330.60 372.50 L330.60 371.77 M325.49 374.69 L325.49 372.14 M322.94 369.95 L323.30 369.58 L322.94 369.22 L322.57 369.58 L322.94 369.95 M325.49 369.58 L330.60 369.58 M322.94 366.30 L329.14 366.30 L330.24 365.93 L330.60 365.20 L330.60 364.47 M325.49 367.39 L325.49 364.84 M325.49 362.28 L329.14 362.28 L330.24 361.92 L330.60 361.19 L330.60 360.09 L330.24 359.36 L329.14 358.27 M325.49 358.27 L330.60 358.27 M322.94 351.33 L330.60 351.33 M326.59 351.33 L325.86 352.06 L325.49 352.79 L325.49 353.89 L325.86 354.62 L326.59 355.35 L327.68 355.71 L328.41 355.71 L329.50 355.35 L330.24 354.62 L330.60 353.89 L330.60 352.79 L330.24 352.06 L329.50 351.33 M327.68 348.78 L327.68 344.40 L326.95 344.40 L326.22 344.76 L325.86 345.13 L325.49 345.86 L325.49 346.95 L325.86 347.68 L326.59 348.41 L327.68 348.78 L328.41 348.78 L329.50 348.41 L330.24 347.68 L330.60 346.95 L330.60 345.86 L330.24 345.13 L329.50 344.40 M321.48 333.45 L322.21 334.18 L323.30 334.91 L324.76 335.64 L326.59 336.00 L328.05 336.00 L329.87 335.64 L331.33 334.91 L332.43 334.18 L333.16 333.45 M322.94 330.89 L330.60 330.89 M325.49 327.24 L329.14 330.89 M327.68 329.43 L330.60 326.88 M325.49 324.69 L330.60 324.69 M326.95 324.69 L325.86 323.59 L325.49 322.86 L325.49 321.77 L325.86 321.04 L326.95 320.67 L330.60 320.67 M326.95 320.67 L325.86 319.58 L325.49 318.85 L325.49 317.75 L325.86 317.02 L326.95 316.66 L330.60 316.66 M321.48 314.10 L322.21 313.37 L323.30 312.64 L324.76 311.91 L326.59 311.55 L328.05 311.55 L329.87 311.91 L331.33 312.64 L332.43 313.37 L333.16 314.10 M379.01 247.61 L372.75 257.00 M372.75 247.61 L379.01 247.61 M372.75 257.00 L379.01 257.00 M383.93 250.74 L383.03 251.19 L382.14 252.08 L381.69 253.42 L381.69 254.32 L382.14 255.66 L383.03 256.55 L383.93 257.00 L385.27 257.00 L386.16 256.55 L387.06 255.66 L387.50 254.32 L387.50 253.42 L387.06 252.08 L386.16 251.19 L385.27 250.74 L383.93 250.74 M390.63 250.74 L390.63 257.00 M390.63 252.53 L391.97 251.19 L392.87 250.74 L394.21 250.74 L395.10 251.19 L395.55 252.53 L395.55 257.00 M404.04 250.74 L404.04 257.00 M404.04 252.08 L403.15 251.19 L402.25 250.74 L400.91 250.74 L400.02 251.19 L399.12 252.08 L398.68 253.42 L398.68 254.32 L399.12 255.66 L400.02 256.55 L400.91 257.00 L402.25 257.00 L403.15 256.55 L404.04 255.66 M407.62 247.61 L407.62 257.00 M417.45 247.61 L419.69 257.00 M421.92 247.61 L419.69 257.00 M421.92 247.61 L424.16 257.00 M426.39 247.61 L424.16 257.00 M428.63 247.61 L429.07 248.06 L429.52 247.61 L429.07 247.17 L428.63 247.61 M429.07 250.74 L429.07 257.00 M432.65 250.74 L432.65 257.00 M432.65 252.53 L433.99 251.19 L434.88 250.74 L436.23 250.74 L437.12 251.19 L437.57 252.53 L437.57 257.00 M446.06 247.61 L446.06 257.00 M446.06 252.08 L445.17 251.19 L444.27 250.74 L442.93 250.74 L442.04 251.19 L441.14 252.08 L440.70 253.42 L440.70 254.32 L441.14 255.66 L442.04 256.55 L442.93 257.00 L444.27 257.00 L445.17 256.55 L446.06 255.66 M454.11 252.08 L453.66 251.19 L452.32 250.74 L450.98 250.74 L449.64 251.19 L449.19 252.08 L449.64 252.98 L450.53 253.42 L452.76 253.87 L453.66 254.32 L454.11 255.21 L454.11 255.66 L453.66 256.55 L452.32 257.00 L450.98 257.00 L449.64 256.55 L449.19 255.66 M467.52 245.82 L466.62 246.72 L465.73 248.06 L464.83 249.85 L464.39 252.08 L464.39 253.87 L464.83 256.11 L465.73 257.89 L466.62 259.24 L467.52 260.13 M475.56 252.08 L474.67 251.19 L473.77 250.74 L472.43 250.74 L471.54 251.19 L470.64 252.08 L470.20 253.42 L470.20 254.32 L470.64 255.66 L471.54 256.55 L472.43 257.00 L473.77 257.00 L474.67 256.55 L475.56 255.66 M480.48 250.74 L479.58 251.19 L478.69 252.08 L478.24 253.42 L478.24 254.32 L478.69 255.66 L479.58 256.55 L480.48 257.00 L481.82 257.00 L482.71 256.55 L483.61 255.66 L484.06 254.32 L484.06 253.42 L483.61 252.08 L482.71 251.19 L481.82 250.74 L480.48 250.74 M487.18 247.61 L487.18 257.00 M495.68 247.61 L495.68 257.00 M495.68 252.08 L494.78 251.19 L493.89 250.74 L492.55 250.74 L491.65 251.19 L490.76 252.08 L490.31 253.42 L490.31 254.32 L490.76 255.66 L491.65 256.55 L492.55 257.00 L493.89 257.00 L494.78 256.55 L495.68 255.66 M510.88 252.08 L510.43 251.19 L509.09 250.74 L507.75 250.74 L506.40 251.19 L505.96 252.08 L506.40 252.98 L507.30 253.42 L509.53 253.87 L510.43 254.32 L510.88 255.21 L510.88 255.66 L510.43 256.55 L509.09 257.00 L507.75 257.00 L506.40 256.55 L505.96 255.66 M513.56 247.61 L514.00 248.06 L514.45 247.61 L514.00 247.17 L513.56 247.61 M514.00 250.74 L514.00 257.00 M522.50 247.61 L522.50 257.00 M522.50 252.08 L521.60 251.19 L520.71 250.74 L519.37 250.74 L518.47 251.19 L517.58 252.08 L517.13 253.42 L517.13 254.32 L517.58 255.66 L518.47 256.55 L519.37 257.00 L520.71 257.00 L521.60 256.55 L522.50 255.66 M525.63 253.42 L530.99 253.42 L530.99 252.53 L530.54 251.64 L530.10 251.19 L529.20 250.74 L527.86 250.74 L526.97 251.19 L526.07 252.08 L525.63 253.42 L525.63 254.32 L526.07 255.66 L526.97 256.55 L527.86 257.00 L529.20 257.00 L530.10 256.55 L530.99 255.66 M533.67 245.82 L534.57 246.72 L535.46 248.06 L536.35 249.85 L536.80 252.08 L536.80 253.87 L536.35 256.11 L535.46 257.89 L534.57 259.24 L533.67 260.13 M594.40 259.26 L594.40 258.92 L594.77 258.24 L595.13 257.90 L595.86 257.56 L597.32 257.56 L598.05 257.90 L598.42 258.24 L598.78 258.92 L598.78 259.60 L598.42 260.28 L597.69 261.30 L594.04 264.70 L599.15 264.70 M603.52 257.56 L602.43 257.90 L601.70 258.92 L601.34 260.62 L601.34 261.64 L601.70 263.34 L602.43 264.36 L603.52 264.70 L604.25 264.70 L605.35 264.36 L606.08 263.34 L606.45 261.64 L606.45 260.62 L606.08 258.92 L605.35 257.90 L604.25 257.56 L603.52 257.56 M610.83 257.56 L609.73 257.90 L609.00 258.92 L608.64 260.62 L608.64 261.64 L609.00 263.34 L609.73 264.36 L610.83 264.70 L611.56 264.70 L612.65 264.36 L613.38 263.34 L613.75 261.64 L613.75 260.62 L613.38 258.92 L612.65 257.90 L611.56 257.56 L610.83 257.56 M616.67 264.02 L616.30 264.36 L616.67 264.70 L617.03 264.36 L616.67 264.02 M621.77 257.56 L620.68 257.90 L619.95 258.92 L619.59 260.62 L619.59 261.64 L619.95 263.34 L620.68 264.36 L621.77 264.70 L622.50 264.70 L623.60 264.36 L624.33 263.34 L624.70 261.64 L624.70 260.62 L624.33 258.92 L623.60 257.90 L622.50 257.56 L621.77 257.56 M595.13 279.92 L595.86 279.58 L596.96 278.56 L596.96 285.70 M605.72 278.56 L602.07 278.56 L601.70 281.62 L602.07 281.28 L603.16 280.94 L604.25 280.94 L605.35 281.28 L606.08 281.96 L606.45 282.98 L606.45 283.66 L606.08 284.68 L605.35 285.36 L604.25 285.70 L603.16 285.70 L602.07 285.36 L601.70 285.02 L601.34 284.34 M610.83 278.56 L609.73 278.90 L609.00 279.92 L608.64 281.62 L608.64 282.64 L609.00 284.34 L609.73 285.36 L610.83 285.70 L611.56 285.70 L612.65 285.36 L613.38 284.34 L613.75 282.64 L613.75 281.62 L613.38 279.92 L612.65 278.90 L611.56 278.56 L610.83 278.56 M616.67 285.02 L616.30 285.36 L616.67 285.70 L617.03 285.36 L616.67 285.02 M621.77 278.56 L620.68 278.90 L619.95 279.92 L619.59 281.62 L619.59 282.64 L619.95 284.34 L620.68 285.36 L621.77 285.70 L622.50 285.70 L623.60 285.36 L624.33 284.34 L624.70 282.64 L624.70 281.62 L624.33 279.92 L623.60 278.90 L622.50 278.56 L621.77 278.56 M595.13 300.92 L595.86 300.58 L596.96 299.56 L596.96 306.70 M603.52 299.56 L602.43 299.90 L601.70 300.92 L601.34 302.62 L601.34 303.64 L601.70 305.34 L602.43 306.36 L603.52 306.70 L604.25 306.70 L605.35 306.36 L606.08 305.34 L606.45 303.64 L606.45 302.62 L606.08 300.92 L605.35 299.90 L604.25 299.56 L603.52 299.56 M610.83 299.56 L609.73 299.90 L609.00 300.92 L608.64 302.62 L608.64 303.64 L609.00 305.34 L609.73 306.36 L610.83 306.70 L611.56 306.70 L612.65 306.36 L613.38 305.34 L613.75 303.64 L613.75 302.62 L613.38 300.92 L612.65 299.90 L611.56 299.56 L610.83 299.56 M616.67 306.02 L616.30 306.36 L616.67 306.70 L617.03 306.36 L616.67 306.02 M621.77 299.56 L620.68 299.90 L619.95 300.92 L619.59 302.62 L619.59 303.64 L619.95 305.34 L620.68 306.36 L621.77 306.70 L622.50 306.70 L623.60 306.36 L624.33 305.34 L624.70 303.64 L624.70 302.62 L624.33 300.92 L623.60 299.90 L622.50 299.56 L621.77 299.56 M604.25 320.56 L600.61 320.56 L600.24 323.62 L600.61 323.28 L601.70 322.94 L602.79 322.94 L603.89 323.28 L604.62 323.96 L604.99 324.98 L604.99 325.66 L604.62 326.68 L603.89 327.36 L602.79 327.70 L601.70 327.70 L600.61 327.36 L600.24 327.02 L599.88 326.34 M609.37 320.56 L608.27 320.90 L607.54 321.92 L607.18 323.62 L607.18 324.64 L607.54 326.34 L608.27 327.36 L609.37 327.70 L610.10 327.70 L611.19 327.36 L611.92 326.34 L612.29 324.64 L612.29 323.62 L611.92 321.92 L611.19 320.90 L610.10 320.56 L609.37 320.56 M615.21 327.02 L614.84 327.36 L615.21 327.70 L615.57 327.36 L615.21 327.02 M620.31 320.56 L619.22 320.90 L618.49 321.92 L618.12 323.62 L618.12 324.64 L618.49 326.34 L619.22 327.36 L620.31 327.70 L621.04 327.70 L622.14 327.36 L622.87 326.34 L623.24 324.64 L623.24 323.62 L622.87 321.92 L622.14 320.90 L621.04 320.56 L620.31 320.56 M607.90 341.56 L606.81 341.90 L606.08 342.92 L605.72 344.62 L605.72 345.64 L606.08 347.34 L606.81 348.36 L607.90 348.70 L608.63 348.70 L609.73 348.36 L610.46 347.34 L610.83 345.64 L610.83 344.62 L610.46 342.92 L609.73 341.90 L608.63 341.56 L607.90 341.56 M613.75 348.02 L613.38 348.36 L613.75 348.70 L614.11 348.36 L613.75 348.02 M618.86 341.56 L617.76 341.90 L617.03 342.92 L616.67 344.62 L616.67 345.64 L617.03 347.34 L617.76 348.36 L618.86 348.70 L619.59 348.70 L620.68 348.36 L621.41 347.34 L621.78 345.64 L621.78 344.62 L621.41 342.92 L620.68 341.90 L619.59 341.56 L618.86 341.56 M594.40 366.64 L600.97 366.64 M607.91 362.56 L604.26 362.56 L603.89 365.62 L604.26 365.28 L605.35 364.94 L606.45 364.94 L607.54 365.28 L608.27 365.96 L608.64 366.98 L608.64 367.66 L608.27 368.68 L607.54 369.36 L606.45 369.70 L605.35 369.70 L604.26 369.36 L603.89 369.02 L603.53 368.34 M613.01 362.56 L611.92 362.90 L611.19 363.92 L610.83 365.62 L610.83 366.64 L611.19 368.34 L611.92 369.36 L613.01 369.70 L613.75 369.70 L614.84 369.36 L615.57 368.34 L615.94 366.64 L615.94 365.62 L615.57 363.92 L614.84 362.90 L613.75 362.56 L613.01 362.56 M618.86 369.02 L618.49 369.36 L618.86 369.70 L619.22 369.36 L618.86 369.02 M623.97 362.56 L622.87 362.90 L622.14 363.92 L621.78 365.62 L621.78 366.64 L622.14 368.34 L622.87 369.36 L623.97 369.70 L624.70 369.70 L625.79 369.36 L626.52 368.34 L626.89 366.64 L626.89 365.62 L626.52 363.92 L625.79 362.90 L624.70 362.56 L623.97 362.56 M588.56 387.64 L595.13 387.64 M598.78 384.92 L599.51 384.58 L600.61 383.56 L600.61 390.70 M607.17 383.56 L606.08 383.90 L605.35 384.92 L604.99 386.62 L604.99 387.64 L605.35 389.34 L606.08 390.36 L607.17 390.70 L607.90 390.70 L609.00 390.36 L609.73 389.34 L610.10 387.64 L610.10 386.62 L609.73 384.92 L609.00 383.90 L607.90 383.56 L607.17 383.56 M614.48 383.56 L613.38 383.90 L612.65 384.92 L612.29 386.62 L612.29 387.64 L612.65 389.34 L613.38 390.36 L614.48 390.70 L615.21 390.70 L616.30 390.36 L617.03 389.34 L617.40 387.64 L617.40 386.62 L617.03 384.92 L616.30 383.90 L615.21 383.56 L614.48 383.56 M620.32 390.02 L619.95 390.36 L620.32 390.70 L620.68 390.36 L620.32 390.02 M625.42 383.56 L624.33 383.90 L623.60 384.92 L623.24 386.62 L623.24 387.64 L623.60 389.34 L624.33 390.36 L625.42 390.70 L626.15 390.70 L627.25 390.36 L627.98 389.34 L628.35 387.64 L628.35 386.62 L627.98 384.92 L627.25 383.90 L626.15 383.56 L625.42 383.56 M588.56 408.64 L595.13 408.64 M598.78 405.92 L599.51 405.58 L600.61 404.56 L600.61 411.70 M609.37 404.56 L605.72 404.56 L605.35 407.62 L605.72 407.28 L606.81 406.94 L607.90 406.94 L609.00 407.28 L609.73 407.96 L610.10 408.98 L610.10 409.66 L609.73 410.68 L609.00 411.36 L607.90 411.70 L606.81 411.70 L605.72 411.36 L605.35 411.02 L604.99 410.34 M614.48 404.56 L613.38 404.90 L612.65 405.92 L612.29 407.62 L612.29 408.64 L612.65 410.34 L613.38 411.36 L614.48 411.70 L615.21 411.70 L616.30 411.36 L617.03 410.34 L617.40 408.64 L617.40 407.62 L617.03 405.92 L616.30 404.90 L615.21 404.56 L614.48 404.56 M620.32 411.02 L619.95 411.36 L620.32 411.70 L620.68 411.36 L620.32 411.02 M625.42 404.56 L624.33 404.90 L623.60 405.92 L623.24 407.62 L623.24 408.64 L623.60 410.34 L624.33 411.36 L625.42 411.70 L626.15 411.70 L627.25 411.36 L627.98 410.34 L628.35 408.64 L628.35 407.62 L627.98 405.92 L627.25 404.90 L626.15 404.56 L625.42 404.56 M588.56 429.64 L595.13 429.64 M598.05 427.26 L598.05 426.92 L598.42 426.24 L598.78 425.90 L599.51 425.56 L600.97 425.56 L601.70 425.90 L602.07 426.24 L602.43 426.92 L602.43 427.60 L602.07 428.28 L601.34 429.30 L597.69 432.70 L602.80 432.70 M607.17 425.56 L606.08 425.90 L605.35 426.92 L604.99 428.62 L604.99 429.64 L605.35 431.34 L606.08 432.36 L607.17 432.70 L607.90 432.70 L609.00 432.36 L609.73 431.34 L610.10 429.64 L610.10 428.62 L609.73 426.92 L609.00 425.90 L607.90 425.56 L607.17 425.56 M614.48 425.56 L613.38 425.90 L612.65 426.92 L612.29 428.62 L612.29 429.64 L612.65 431.34 L613.38 432.36 L614.48 432.70 L615.21 432.70 L616.30 432.36 L617.03 431.34 L617.40 429.64 L617.40 428.62 L617.03 426.92 L616.30 425.90 L615.21 425.56 L614.48 425.56 M620.32 432.02 L619.95 432.36 L620.32 432.70 L620.68 432.36 L620.32 432.02 M625.42 425.56 L624.33 425.90 L623.60 426.92 L623.24 428.62 L623.24 429.64 L623.60 431.34 L624.33 432.36 L625.42 432.70 L626.15 432.70 L627.25 432.36 L627.98 431.34 L628.35 429.64 L628.35 428.62 L627.98 426.92 L627.25 425.90 L626.15 425.56 L625.42 425.56 M289.84 464.02 L289.84 463.69 L290.20 463.03 L290.57 462.70 L291.29 462.37 L292.73 462.37 L293.45 462.70 L293.81 463.03 L294.18 463.69 L294.18 464.35 L293.81 465.01 L293.09 466.00 L289.48 469.30 L294.54 469.30 M298.87 462.37 L297.79 462.70 L297.06 463.69 L296.70 465.34 L296.70 466.33 L297.06 467.98 L297.79 468.97 L298.87 469.30 L299.59 469.30 L300.67 468.97 L301.40 467.98 L301.76 466.33 L301.76 465.34 L301.40 463.69 L300.67 462.70 L299.59 462.37 L298.87 462.37 M306.09 462.37 L305.01 462.70 L304.28 463.69 L303.92 465.34 L303.92 466.33 L304.28 467.98 L305.01 468.97 L306.09 469.30 L306.81 469.30 L307.89 468.97 L308.62 467.98 L308.98 466.33 L308.98 465.34 L308.62 463.69 L307.89 462.70 L306.81 462.37 L306.09 462.37 M315.48 462.37 L311.87 462.37 L311.50 465.34 L311.87 465.01 L312.95 464.68 L314.03 464.68 L315.11 465.01 L315.84 465.67 L316.20 466.66 L316.20 467.32 L315.84 468.31 L315.11 468.97 L314.03 469.30 L312.95 469.30 L311.87 468.97 L311.50 468.64 L311.14 467.98 M319.08 462.37 L323.06 462.37 L320.89 465.01 L321.97 465.01 L322.69 465.34 L323.06 465.67 L323.42 466.66 L323.42 467.32 L323.06 468.31 L322.33 468.97 L321.25 469.30 L320.17 469.30 L319.08 468.97 L318.72 468.64 L318.36 467.98 M329.19 462.37 L325.58 466.99 L331.00 466.99 M329.19 462.37 L329.19 469.30 M333.52 462.37 L337.50 462.37 L335.33 465.01 L336.41 465.01 L337.13 465.34 L337.50 465.67 L337.86 466.66 L337.86 467.32 L337.50 468.31 L336.77 468.97 L335.69 469.30 L334.61 469.30 L333.52 468.97 L333.16 468.64 L332.80 467.98 M346.16 462.37 L346.16 469.30 M346.16 465.67 L346.88 465.01 L347.60 464.68 L348.69 464.68 L349.41 465.01 L350.13 465.67 L350.49 466.66 L350.49 467.32 L350.13 468.31 L349.41 468.97 L348.69 469.30 L347.60 469.30 L346.88 468.97 L346.16 468.31 M353.02 462.37 L353.02 469.30 M353.02 465.67 L353.74 465.01 L354.46 464.68 L355.55 464.68 L356.27 465.01 L356.99 465.67 L357.35 466.66 L357.35 467.32 L356.99 468.31 L356.27 468.97 L355.55 469.30 L354.46 469.30 L353.74 468.97 L353.02 468.31 M364.93 464.68 L367.10 469.30 M369.26 464.68 L367.10 469.30 M373.24 462.37 L372.15 462.70 L371.43 463.69 L371.07 465.34 L371.07 466.33 L371.43 467.98 L372.15 468.97 L373.24 469.30 L373.96 469.30 L375.04 468.97 L375.76 467.98 L376.12 466.33 L376.12 465.34 L375.76 463.69 L375.04 462.70 L373.96 462.37 L373.24 462.37 M379.01 462.37 L382.98 462.37 L380.82 465.01 L381.90 465.01 L382.62 465.34 L382.98 465.67 L383.34 466.66 L383.34 467.32 L382.98 468.31 L382.26 468.97 L381.18 469.30 L380.09 469.30 L379.01 468.97 L378.65 468.64 L378.29 467.98 M385.87 464.68 L385.87 469.30 M385.87 466.66 L386.23 465.67 L386.95 465.01 L387.68 464.68 L388.76 464.68 M392.37 462.37 L391.28 462.70 L390.56 463.69 L390.20 465.34 L390.20 466.33 L390.56 467.98 L391.28 468.97 L392.37 469.30 L393.09 469.30 L394.17 468.97 L394.89 467.98 L395.26 466.33 L395.26 465.34 L394.89 463.69 L394.17 462.70 L393.09 462.37 L392.37 462.37 M401.03 462.37 L397.42 466.99 L402.84 466.99 M401.03 462.37 L401.03 469.30 M416.56 462.37 L416.56 469.30 M416.56 462.37 L419.80 462.37 L420.89 462.70 L421.25 463.03 L421.61 463.69 L421.61 464.35 L421.25 465.01 L420.89 465.34 L419.80 465.67 M416.56 465.67 L419.80 465.67 L420.89 466.00 L421.25 466.33 L421.61 466.99 L421.61 467.98 L421.25 468.64 L420.89 468.97 L419.80 469.30 L416.56 469.30 M423.77 466.66 L428.11 466.66 L428.11 466.00 L427.75 465.34 L427.38 465.01 L426.66 464.68 L425.58 464.68 L424.86 465.01 L424.14 465.67 L423.77 466.66 L423.77 467.32 L424.14 468.31 L424.86 468.97 L425.58 469.30 L426.66 469.30 L427.38 468.97 L428.11 468.31 M430.99 462.37 L430.99 467.98 L431.36 468.97 L432.08 469.30 L432.80 469.30 M429.91 464.68 L432.44 464.68 M438.94 464.68 L438.94 469.30 M438.94 465.67 L438.21 465.01 L437.49 464.68 L436.41 464.68 L435.69 465.01 L434.97 465.67 L434.60 466.66 L434.60 467.32 L434.97 468.31 L435.69 468.97 L436.41 469.30 L437.49 469.30 L438.21 468.97 L438.94 468.31 M449.41 462.37 L446.52 469.30 M449.41 462.37 L452.29 469.30 M447.60 466.99 L451.21 466.99 M454.10 464.68 L454.10 469.30 M454.10 466.00 L455.18 465.01 L455.90 464.68 L456.99 464.68 L457.71 465.01 L458.07 466.00 L458.07 469.30 M464.93 464.68 L464.93 469.96 L464.57 470.95 L464.21 471.28 L463.48 471.61 L462.40 471.61 L461.68 471.28 M464.93 465.67 L464.21 465.01 L463.48 464.68 L462.40 464.68 L461.68 465.01 L460.96 465.67 L460.60 466.66 L460.60 467.32 L460.96 468.31 L461.68 468.97 L462.40 469.30 L463.48 469.30 L464.21 468.97 L464.93 468.31 M467.82 462.37 L467.82 469.30 M470.34 466.66 L474.68 466.66 L474.68 466.00 L474.31 465.34 L473.95 465.01 L473.23 464.68 L472.15 464.68 L471.43 465.01 L470.70 465.67 L470.34 466.66 L470.34 467.32 L470.70 468.31 L471.43 468.97 L472.15 469.30 L473.23 469.30 L473.95 468.97 L474.68 468.31 M477.56 464.68 L477.20 465.01 L477.56 465.34 L477.92 465.01 L477.56 464.68 M477.56 468.64 L477.20 468.97 L477.56 469.30 L477.92 468.97 L477.56 468.64 M489.84 462.37 L486.23 466.99 L491.64 466.99 M489.84 462.37 L489.84 469.30 M494.17 462.37 L498.14 462.37 L495.98 465.01 L497.06 465.01 L497.78 465.34 L498.14 465.67 L498.50 466.66 L498.50 467.32 L498.14 468.31 L497.42 468.97 L496.34 469.30 L495.25 469.30 L494.17 468.97 L493.81 468.64 L493.45 467.98 M501.39 468.64 L501.03 468.97 L501.39 469.30 L501.75 468.97 L501.39 468.64 M504.64 464.02 L504.64 463.69 L505.00 463.03 L505.36 462.70 L506.08 462.37 L507.53 462.37 L508.25 462.70 L508.61 463.03 L508.97 463.69 L508.97 464.35 L508.61 465.01 L507.89 466.00 L504.28 469.30 L509.33 469.30 M515.11 462.37 L511.50 466.99 L516.91 466.99 M515.11 462.37 L515.11 469.30 M523.41 464.68 L523.05 465.67 L522.33 466.33 L521.25 466.66 L520.88 466.66 L519.80 466.33 L519.08 465.67 L518.72 464.68 L518.72 464.35 L519.08 463.36 L519.80 462.70 L520.88 462.37 L521.25 462.37 L522.33 462.70 L523.05 463.36 L523.41 464.68 L523.41 466.33 L523.05 467.98 L522.33 468.97 L521.25 469.30 L520.52 469.30 L519.44 468.97 L519.08 468.31 M530.63 464.68 L530.27 465.67 L529.55 466.33 L528.47 466.66 L528.10 466.66 L527.02 466.33 L526.30 465.67 L525.94 464.68 L525.94 464.35 L526.30 463.36 L527.02 462.70 L528.10 462.37 L528.47 462.37 L529.55 462.70 L530.27 463.36 L530.63 464.68 L530.63 466.33 L530.27 467.98 L529.55 468.97 L528.47 469.30 L527.74 469.30 L526.66 468.97 L526.30 468.31" fill="none" stroke="#000" stroke-width="1" stroke-linecap="square" stroke-linejoin="round" shape-rendering="crispEdges"/>
</svg>
</body></html>
